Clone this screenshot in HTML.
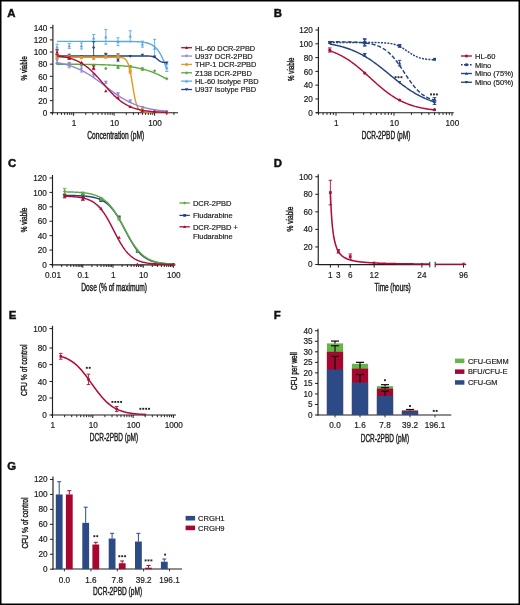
<!DOCTYPE html>
<html><head><meta charset="utf-8"><style>
html,body{margin:0;padding:0;background:#fff;}
body{width:520px;height:605px;overflow:hidden;}
svg{display:block;will-change:transform;font-family:"Liberation Sans", sans-serif;}
</style></head><body>
<svg width="520" height="605" viewBox="0 0 520 605">
<rect x="0" y="0" width="520" height="605" fill="#fff"/>
<rect x="0.7" y="0.7" width="518.6" height="603.6" fill="none" stroke="#000" stroke-width="1.6"/>
<text x="7.30" y="16.80" font-size="11.4" text-anchor="start" font-weight="bold" fill="#111" stroke="#111" stroke-width="0.45">A</text>
<line x1="52.90" y1="24.80" x2="52.90" y2="113.25" stroke="#1e1e1e" stroke-width="1.15"/>
<line x1="49.90" y1="112.75" x2="52.90" y2="112.75" stroke="#1e1e1e" stroke-width="1.0"/>
<text x="47.30" y="115.95" font-size="8.2" text-anchor="end" font-weight="normal" fill="#1a1a1a" stroke="#1a1a1a" stroke-width="0.18">0</text>
<line x1="49.90" y1="100.61" x2="52.90" y2="100.61" stroke="#1e1e1e" stroke-width="1.0"/>
<text x="47.30" y="103.81" font-size="8.2" text-anchor="end" font-weight="normal" fill="#1a1a1a" stroke="#1a1a1a" stroke-width="0.18">20</text>
<line x1="49.90" y1="88.47" x2="52.90" y2="88.47" stroke="#1e1e1e" stroke-width="1.0"/>
<text x="47.30" y="91.67" font-size="8.2" text-anchor="end" font-weight="normal" fill="#1a1a1a" stroke="#1a1a1a" stroke-width="0.18">40</text>
<line x1="49.90" y1="76.32" x2="52.90" y2="76.32" stroke="#1e1e1e" stroke-width="1.0"/>
<text x="47.30" y="79.52" font-size="8.2" text-anchor="end" font-weight="normal" fill="#1a1a1a" stroke="#1a1a1a" stroke-width="0.18">60</text>
<line x1="49.90" y1="64.18" x2="52.90" y2="64.18" stroke="#1e1e1e" stroke-width="1.0"/>
<text x="47.30" y="67.38" font-size="8.2" text-anchor="end" font-weight="normal" fill="#1a1a1a" stroke="#1a1a1a" stroke-width="0.18">80</text>
<line x1="49.90" y1="52.04" x2="52.90" y2="52.04" stroke="#1e1e1e" stroke-width="1.0"/>
<text x="47.30" y="55.24" font-size="8.2" text-anchor="end" font-weight="normal" fill="#1a1a1a" stroke="#1a1a1a" stroke-width="0.18">100</text>
<line x1="49.90" y1="39.90" x2="52.90" y2="39.90" stroke="#1e1e1e" stroke-width="1.0"/>
<text x="47.30" y="43.10" font-size="8.2" text-anchor="end" font-weight="normal" fill="#1a1a1a" stroke="#1a1a1a" stroke-width="0.18">120</text>
<line x1="49.90" y1="27.76" x2="52.90" y2="27.76" stroke="#1e1e1e" stroke-width="1.0"/>
<text x="47.30" y="30.96" font-size="8.2" text-anchor="end" font-weight="normal" fill="#1a1a1a" stroke="#1a1a1a" stroke-width="0.18">140</text>
<line x1="50.60" y1="112.75" x2="178.00" y2="112.75" stroke="#1e1e1e" stroke-width="1.15"/>
<line x1="52.42" y1="112.75" x2="52.42" y2="114.95" stroke="#1e1e1e" stroke-width="0.95"/>
<line x1="57.48" y1="112.75" x2="57.48" y2="114.95" stroke="#1e1e1e" stroke-width="0.95"/>
<line x1="61.41" y1="112.75" x2="61.41" y2="114.95" stroke="#1e1e1e" stroke-width="0.95"/>
<line x1="64.62" y1="112.75" x2="64.62" y2="114.95" stroke="#1e1e1e" stroke-width="0.95"/>
<line x1="67.33" y1="112.75" x2="67.33" y2="114.95" stroke="#1e1e1e" stroke-width="0.95"/>
<line x1="69.68" y1="112.75" x2="69.68" y2="114.95" stroke="#1e1e1e" stroke-width="0.95"/>
<line x1="71.75" y1="112.75" x2="71.75" y2="114.95" stroke="#1e1e1e" stroke-width="0.95"/>
<line x1="73.60" y1="112.75" x2="73.60" y2="115.75" stroke="#1e1e1e" stroke-width="1.0"/>
<line x1="85.79" y1="112.75" x2="85.79" y2="114.95" stroke="#1e1e1e" stroke-width="0.95"/>
<line x1="92.92" y1="112.75" x2="92.92" y2="114.95" stroke="#1e1e1e" stroke-width="0.95"/>
<line x1="97.98" y1="112.75" x2="97.98" y2="114.95" stroke="#1e1e1e" stroke-width="0.95"/>
<line x1="101.91" y1="112.75" x2="101.91" y2="114.95" stroke="#1e1e1e" stroke-width="0.95"/>
<line x1="105.12" y1="112.75" x2="105.12" y2="114.95" stroke="#1e1e1e" stroke-width="0.95"/>
<line x1="107.83" y1="112.75" x2="107.83" y2="114.95" stroke="#1e1e1e" stroke-width="0.95"/>
<line x1="110.18" y1="112.75" x2="110.18" y2="114.95" stroke="#1e1e1e" stroke-width="0.95"/>
<line x1="112.25" y1="112.75" x2="112.25" y2="114.95" stroke="#1e1e1e" stroke-width="0.95"/>
<line x1="114.10" y1="112.75" x2="114.10" y2="115.75" stroke="#1e1e1e" stroke-width="1.0"/>
<line x1="126.29" y1="112.75" x2="126.29" y2="114.95" stroke="#1e1e1e" stroke-width="0.95"/>
<line x1="133.42" y1="112.75" x2="133.42" y2="114.95" stroke="#1e1e1e" stroke-width="0.95"/>
<line x1="138.48" y1="112.75" x2="138.48" y2="114.95" stroke="#1e1e1e" stroke-width="0.95"/>
<line x1="142.41" y1="112.75" x2="142.41" y2="114.95" stroke="#1e1e1e" stroke-width="0.95"/>
<line x1="145.62" y1="112.75" x2="145.62" y2="114.95" stroke="#1e1e1e" stroke-width="0.95"/>
<line x1="148.33" y1="112.75" x2="148.33" y2="114.95" stroke="#1e1e1e" stroke-width="0.95"/>
<line x1="150.68" y1="112.75" x2="150.68" y2="114.95" stroke="#1e1e1e" stroke-width="0.95"/>
<line x1="152.75" y1="112.75" x2="152.75" y2="114.95" stroke="#1e1e1e" stroke-width="0.95"/>
<line x1="154.60" y1="112.75" x2="154.60" y2="115.75" stroke="#1e1e1e" stroke-width="1.0"/>
<line x1="166.79" y1="112.75" x2="166.79" y2="114.95" stroke="#1e1e1e" stroke-width="0.95"/>
<line x1="173.92" y1="112.75" x2="173.92" y2="114.95" stroke="#1e1e1e" stroke-width="0.95"/>
<text x="74.00" y="125.80" font-size="8.2" text-anchor="middle" font-weight="normal" fill="#1a1a1a" stroke="#1a1a1a" stroke-width="0.18">1</text>
<text x="114.50" y="125.80" font-size="8.2" text-anchor="middle" font-weight="normal" fill="#1a1a1a" stroke="#1a1a1a" stroke-width="0.18">10</text>
<text x="155.00" y="125.80" font-size="8.2" text-anchor="middle" font-weight="normal" fill="#1a1a1a" stroke="#1a1a1a" stroke-width="0.18">100</text>
<text x="87.22" y="139.00" font-size="11" font-weight="normal" fill="#1a1a1a" stroke="#1a1a1a" stroke-width="0.42" textLength="57.06" lengthAdjust="spacingAndGlyphs">Concentration (pM)</text>
<text x="26.90" y="80.58" font-size="9.8" font-weight="normal" fill="#1a1a1a" stroke="#1a1a1a" stroke-width="0.42" textLength="24.42" lengthAdjust="spacingAndGlyphs" transform="rotate(-90 26.90 80.58)">% viable</text>
<path d="M57.07 41.42 L57.85 41.42 L58.63 41.42 L59.42 41.42 L60.20 41.42 L60.99 41.42 L61.77 41.42 L62.55 41.42 L63.34 41.42 L64.12 41.42 L64.90 41.42 L65.69 41.42 L66.47 41.42 L67.26 41.42 L68.04 41.42 L68.82 41.42 L69.61 41.42 L70.39 41.42 L71.17 41.42 L71.96 41.42 L72.74 41.42 L73.53 41.42 L74.31 41.42 L75.09 41.42 L75.88 41.42 L76.66 41.42 L77.44 41.42 L78.23 41.42 L79.01 41.42 L79.80 41.42 L80.58 41.42 L81.36 41.42 L82.15 41.42 L82.93 41.42 L83.71 41.42 L84.50 41.42 L85.28 41.42 L86.07 41.42 L86.85 41.42 L87.63 41.42 L88.42 41.42 L89.20 41.42 L89.98 41.42 L90.77 41.42 L91.55 41.42 L92.34 41.42 L93.12 41.42 L93.90 41.42 L94.69 41.42 L95.47 41.42 L96.25 41.42 L97.04 41.42 L97.82 41.42 L98.61 41.42 L99.39 41.42 L100.17 41.42 L100.96 41.42 L101.74 41.42 L102.52 41.42 L103.31 41.42 L104.09 41.42 L104.88 41.42 L105.66 41.42 L106.44 41.42 L107.23 41.42 L108.01 41.42 L108.79 41.42 L109.58 41.42 L110.36 41.42 L111.15 41.42 L111.93 41.42 L112.71 41.42 L113.50 41.42 L114.28 41.42 L115.06 41.42 L115.85 41.42 L116.63 41.42 L117.42 41.43 L118.20 41.43 L118.98 41.43 L119.77 41.43 L120.55 41.43 L121.33 41.44 L122.12 41.44 L122.90 41.44 L123.69 41.45 L124.47 41.45 L125.25 41.45 L126.04 41.46 L126.82 41.47 L127.60 41.47 L128.39 41.48 L129.17 41.49 L129.96 41.50 L130.74 41.51 L131.52 41.53 L132.31 41.54 L133.09 41.56 L133.87 41.58 L134.66 41.61 L135.44 41.63 L136.23 41.66 L137.01 41.70 L137.79 41.74 L138.58 41.79 L139.36 41.84 L140.14 41.90 L140.93 41.97 L141.71 42.04 L142.50 42.13 L143.28 42.23 L144.06 42.35 L144.85 42.48 L145.63 42.63 L146.41 42.80 L147.20 43.00 L147.98 43.22 L148.77 43.47 L149.55 43.75 L150.33 44.07 L151.12 44.44 L151.90 44.85 L152.68 45.31 L153.47 45.83 L154.25 46.42 L155.04 47.08 L155.82 47.82 L156.60 48.64 L157.39 49.56 L158.17 50.57 L158.95 51.69 L159.74 52.92 L160.52 54.27 L161.31 55.74 L162.09 57.33 L162.87 59.05 L163.66 60.88 L164.44 62.83 L165.22 64.89 L166.01 67.04 L166.79 69.27" stroke="#5AA9E6" stroke-width="1.4" fill="none"/>
<line x1="57.07" y1="44.15" x2="57.07" y2="50.22" stroke="#5AA9E6" stroke-width="0.9"/>
<line x1="55.47" y1="44.15" x2="58.67" y2="44.15" stroke="#5AA9E6" stroke-width="0.9"/>
<line x1="55.47" y1="50.22" x2="58.67" y2="50.22" stroke="#5AA9E6" stroke-width="0.9"/>
<path d="M55.37 48.54L58.77 48.54L57.07 45.48Z" fill="#5AA9E6"/>
<line x1="69.26" y1="43.54" x2="69.26" y2="48.40" stroke="#5AA9E6" stroke-width="0.9"/>
<line x1="67.66" y1="43.54" x2="70.86" y2="43.54" stroke="#5AA9E6" stroke-width="0.9"/>
<line x1="67.66" y1="48.40" x2="70.86" y2="48.40" stroke="#5AA9E6" stroke-width="0.9"/>
<path d="M67.56 47.33L70.96 47.33L69.26 44.27Z" fill="#5AA9E6"/>
<line x1="81.45" y1="42.93" x2="81.45" y2="49.00" stroke="#5AA9E6" stroke-width="0.9"/>
<line x1="79.85" y1="42.93" x2="83.05" y2="42.93" stroke="#5AA9E6" stroke-width="0.9"/>
<line x1="79.85" y1="49.00" x2="83.05" y2="49.00" stroke="#5AA9E6" stroke-width="0.9"/>
<path d="M79.75 47.33L83.15 47.33L81.45 44.27Z" fill="#5AA9E6"/>
<line x1="93.64" y1="34.43" x2="93.64" y2="41.72" stroke="#5AA9E6" stroke-width="0.9"/>
<line x1="92.04" y1="34.43" x2="95.24" y2="34.43" stroke="#5AA9E6" stroke-width="0.9"/>
<line x1="92.04" y1="41.72" x2="95.24" y2="41.72" stroke="#5AA9E6" stroke-width="0.9"/>
<path d="M91.94 39.44L95.34 39.44L93.64 36.38Z" fill="#5AA9E6"/>
<line x1="105.83" y1="29.58" x2="105.83" y2="44.15" stroke="#5AA9E6" stroke-width="0.9"/>
<line x1="104.23" y1="29.58" x2="107.43" y2="29.58" stroke="#5AA9E6" stroke-width="0.9"/>
<line x1="104.23" y1="44.15" x2="107.43" y2="44.15" stroke="#5AA9E6" stroke-width="0.9"/>
<path d="M104.13 38.22L107.53 38.22L105.83 35.16Z" fill="#5AA9E6"/>
<line x1="118.02" y1="37.77" x2="118.02" y2="45.67" stroke="#5AA9E6" stroke-width="0.9"/>
<line x1="116.42" y1="37.77" x2="119.62" y2="37.77" stroke="#5AA9E6" stroke-width="0.9"/>
<line x1="116.42" y1="45.67" x2="119.62" y2="45.67" stroke="#5AA9E6" stroke-width="0.9"/>
<path d="M116.32 43.08L119.72 43.08L118.02 40.02Z" fill="#5AA9E6"/>
<line x1="130.22" y1="30.79" x2="130.22" y2="41.72" stroke="#5AA9E6" stroke-width="0.9"/>
<line x1="128.62" y1="30.79" x2="131.82" y2="30.79" stroke="#5AA9E6" stroke-width="0.9"/>
<line x1="128.62" y1="41.72" x2="131.82" y2="41.72" stroke="#5AA9E6" stroke-width="0.9"/>
<path d="M128.52 37.62L131.92 37.62L130.22 34.56Z" fill="#5AA9E6"/>
<line x1="142.41" y1="41.11" x2="142.41" y2="47.18" stroke="#5AA9E6" stroke-width="0.9"/>
<line x1="140.81" y1="41.11" x2="144.01" y2="41.11" stroke="#5AA9E6" stroke-width="0.9"/>
<line x1="140.81" y1="47.18" x2="144.01" y2="47.18" stroke="#5AA9E6" stroke-width="0.9"/>
<path d="M140.71 45.51L144.11 45.51L142.41 42.45Z" fill="#5AA9E6"/>
<line x1="154.60" y1="39.29" x2="154.60" y2="57.50" stroke="#5AA9E6" stroke-width="0.9"/>
<line x1="153.00" y1="39.29" x2="156.20" y2="39.29" stroke="#5AA9E6" stroke-width="0.9"/>
<line x1="153.00" y1="57.50" x2="156.20" y2="57.50" stroke="#5AA9E6" stroke-width="0.9"/>
<path d="M152.90 49.76L156.30 49.76L154.60 46.70Z" fill="#5AA9E6"/>
<line x1="166.79" y1="64.18" x2="166.79" y2="71.47" stroke="#5AA9E6" stroke-width="0.9"/>
<line x1="165.19" y1="64.18" x2="168.39" y2="64.18" stroke="#5AA9E6" stroke-width="0.9"/>
<line x1="165.19" y1="71.47" x2="168.39" y2="71.47" stroke="#5AA9E6" stroke-width="0.9"/>
<path d="M165.09 69.18L168.49 69.18L166.79 66.12Z" fill="#5AA9E6"/>
<path d="M57.07 55.99 L57.85 55.99 L58.63 55.99 L59.42 55.99 L60.20 55.99 L60.99 55.99 L61.77 55.99 L62.55 55.99 L63.34 55.99 L64.12 55.99 L64.90 55.99 L65.69 55.99 L66.47 55.99 L67.26 55.99 L68.04 55.99 L68.82 55.99 L69.61 55.99 L70.39 55.99 L71.17 55.99 L71.96 55.99 L72.74 55.99 L73.53 55.99 L74.31 55.99 L75.09 55.99 L75.88 55.99 L76.66 55.99 L77.44 55.99 L78.23 55.99 L79.01 55.99 L79.80 55.99 L80.58 55.99 L81.36 55.99 L82.15 55.99 L82.93 55.99 L83.71 55.99 L84.50 55.99 L85.28 55.99 L86.07 55.99 L86.85 55.99 L87.63 55.99 L88.42 55.99 L89.20 55.99 L89.98 55.99 L90.77 55.99 L91.55 55.99 L92.34 55.99 L93.12 55.99 L93.90 55.99 L94.69 55.99 L95.47 55.99 L96.25 55.99 L97.04 55.99 L97.82 55.99 L98.61 55.99 L99.39 55.99 L100.17 55.99 L100.96 55.99 L101.74 55.99 L102.52 55.99 L103.31 55.99 L104.09 55.99 L104.88 55.99 L105.66 55.99 L106.44 55.99 L107.23 55.99 L108.01 55.99 L108.79 55.99 L109.58 55.99 L110.36 55.99 L111.15 55.99 L111.93 55.99 L112.71 55.99 L113.50 55.99 L114.28 55.99 L115.06 55.99 L115.85 55.99 L116.63 55.99 L117.42 55.99 L118.20 55.99 L118.98 55.99 L119.77 55.99 L120.55 55.99 L121.33 55.99 L122.12 55.99 L122.90 55.99 L123.69 55.99 L124.47 55.99 L125.25 55.99 L126.04 55.99 L126.82 55.99 L127.60 55.99 L128.39 55.99 L129.17 55.99 L129.96 55.99 L130.74 55.99 L131.52 55.99 L132.31 55.99 L133.09 55.99 L133.87 55.99 L134.66 55.99 L135.44 55.99 L136.23 55.99 L137.01 55.99 L137.79 55.99 L138.58 55.99 L139.36 55.99 L140.14 55.99 L140.93 55.99 L141.71 55.99 L142.50 55.99 L143.28 55.99 L144.06 55.99 L144.85 56.00 L145.63 56.00 L146.41 56.01 L147.20 56.02 L147.98 56.04 L148.77 56.06 L149.55 56.10 L150.33 56.15 L151.12 56.23 L151.90 56.34 L152.68 56.51 L153.47 56.74 L154.25 57.05 L155.04 57.45 L155.82 57.96 L156.60 58.56 L157.39 59.22 L158.17 59.88 L158.95 60.50 L159.74 61.05 L160.52 61.49 L161.31 61.83 L162.09 62.08 L162.87 62.26 L163.66 62.39 L164.44 62.48 L165.22 62.54 L166.01 62.58 L166.79 62.61" stroke="#23427F" stroke-width="1.4" fill="none"/>
<path d="M55.37 54.32L58.77 54.32L57.07 57.38Z" fill="#23427F"/>
<path d="M67.56 53.72L70.96 53.72L69.26 56.78Z" fill="#23427F"/>
<path d="M79.75 54.93L83.15 54.93L81.45 57.99Z" fill="#23427F"/>
<line x1="93.64" y1="41.72" x2="93.64" y2="56.29" stroke="#23427F" stroke-width="0.9"/>
<line x1="92.04" y1="41.72" x2="95.24" y2="41.72" stroke="#23427F" stroke-width="0.9"/>
<line x1="92.04" y1="56.29" x2="95.24" y2="56.29" stroke="#23427F" stroke-width="0.9"/>
<path d="M91.94 46.67L95.34 46.67L93.64 49.73Z" fill="#23427F"/>
<line x1="105.83" y1="53.25" x2="105.83" y2="56.90" stroke="#23427F" stroke-width="0.9"/>
<line x1="104.23" y1="53.25" x2="107.43" y2="53.25" stroke="#23427F" stroke-width="0.9"/>
<line x1="104.23" y1="56.90" x2="107.43" y2="56.90" stroke="#23427F" stroke-width="0.9"/>
<path d="M104.13 53.72L107.53 53.72L105.83 56.78Z" fill="#23427F"/>
<line x1="118.02" y1="53.86" x2="118.02" y2="61.15" stroke="#23427F" stroke-width="0.9"/>
<line x1="116.42" y1="53.86" x2="119.62" y2="53.86" stroke="#23427F" stroke-width="0.9"/>
<line x1="116.42" y1="61.15" x2="119.62" y2="61.15" stroke="#23427F" stroke-width="0.9"/>
<path d="M116.32 58.57L119.72 58.57L118.02 61.63Z" fill="#23427F"/>
<path d="M128.52 54.93L131.92 54.93L130.22 57.99Z" fill="#23427F"/>
<path d="M140.71 53.72L144.11 53.72L142.41 56.78Z" fill="#23427F"/>
<path d="M152.90 55.54L156.30 55.54L154.60 58.60Z" fill="#23427F"/>
<path d="M165.09 61.61L168.49 61.61L166.79 64.67Z" fill="#23427F"/>
<path d="M57.07 64.22 L57.85 64.23 L58.63 64.23 L59.42 64.23 L60.20 64.23 L60.99 64.23 L61.77 64.24 L62.55 64.24 L63.34 64.24 L64.12 64.24 L64.90 64.25 L65.69 64.25 L66.47 64.25 L67.26 64.26 L68.04 64.26 L68.82 64.26 L69.61 64.27 L70.39 64.27 L71.17 64.28 L71.96 64.28 L72.74 64.28 L73.53 64.29 L74.31 64.29 L75.09 64.30 L75.88 64.30 L76.66 64.31 L77.44 64.32 L78.23 64.32 L79.01 64.33 L79.80 64.34 L80.58 64.34 L81.36 64.35 L82.15 64.36 L82.93 64.36 L83.71 64.37 L84.50 64.38 L85.28 64.39 L86.07 64.40 L86.85 64.41 L87.63 64.42 L88.42 64.43 L89.20 64.44 L89.98 64.45 L90.77 64.47 L91.55 64.48 L92.34 64.49 L93.12 64.51 L93.90 64.52 L94.69 64.54 L95.47 64.55 L96.25 64.57 L97.04 64.59 L97.82 64.61 L98.61 64.63 L99.39 64.65 L100.17 64.67 L100.96 64.69 L101.74 64.71 L102.52 64.73 L103.31 64.76 L104.09 64.79 L104.88 64.81 L105.66 64.84 L106.44 64.87 L107.23 64.90 L108.01 64.93 L108.79 64.97 L109.58 65.00 L110.36 65.04 L111.15 65.08 L111.93 65.12 L112.71 65.16 L113.50 65.20 L114.28 65.25 L115.06 65.30 L115.85 65.35 L116.63 65.40 L117.42 65.45 L118.20 65.51 L118.98 65.57 L119.77 65.63 L120.55 65.69 L121.33 65.76 L122.12 65.83 L122.90 65.90 L123.69 65.97 L124.47 66.05 L125.25 66.13 L126.04 66.22 L126.82 66.31 L127.60 66.40 L128.39 66.50 L129.17 66.60 L129.96 66.70 L130.74 66.81 L131.52 66.92 L132.31 67.04 L133.09 67.16 L133.87 67.29 L134.66 67.42 L135.44 67.56 L136.23 67.70 L137.01 67.85 L137.79 68.01 L138.58 68.17 L139.36 68.33 L140.14 68.50 L140.93 68.68 L141.71 68.87 L142.50 69.06 L143.28 69.26 L144.06 69.47 L144.85 69.68 L145.63 69.90 L146.41 70.13 L147.20 70.37 L147.98 70.61 L148.77 70.86 L149.55 71.12 L150.33 71.39 L151.12 71.67 L151.90 71.96 L152.68 72.25 L153.47 72.56 L154.25 72.87 L155.04 73.19 L155.82 73.52 L156.60 73.87 L157.39 74.22 L158.17 74.57 L158.95 74.94 L159.74 75.32 L160.52 75.71 L161.31 76.10 L162.09 76.51 L162.87 76.92 L163.66 77.35 L164.44 77.78 L165.22 78.22 L166.01 78.67 L166.79 79.13" stroke="#5BAA40" stroke-width="1.4" fill="none"/>
<path d="M57.07 61.87L58.77 63.57L57.07 65.27L55.37 63.57Z" fill="#5BAA40"/>
<line x1="69.26" y1="62.36" x2="69.26" y2="66.00" stroke="#5BAA40" stroke-width="0.9"/>
<line x1="67.66" y1="62.36" x2="70.86" y2="62.36" stroke="#5BAA40" stroke-width="0.9"/>
<line x1="67.66" y1="66.00" x2="70.86" y2="66.00" stroke="#5BAA40" stroke-width="0.9"/>
<path d="M69.26 62.48L70.96 64.18L69.26 65.88L67.56 64.18Z" fill="#5BAA40"/>
<line x1="81.45" y1="62.97" x2="81.45" y2="65.40" stroke="#5BAA40" stroke-width="0.9"/>
<line x1="79.85" y1="62.97" x2="83.05" y2="62.97" stroke="#5BAA40" stroke-width="0.9"/>
<line x1="79.85" y1="65.40" x2="83.05" y2="65.40" stroke="#5BAA40" stroke-width="0.9"/>
<path d="M81.45 62.48L83.15 64.18L81.45 65.88L79.75 64.18Z" fill="#5BAA40"/>
<path d="M93.64 63.70L95.34 65.40L93.64 67.10L91.94 65.40Z" fill="#5BAA40"/>
<path d="M105.83 66.73L107.53 68.43L105.83 70.13L104.13 68.43Z" fill="#5BAA40"/>
<line x1="118.02" y1="66.00" x2="118.02" y2="68.43" stroke="#5BAA40" stroke-width="0.9"/>
<line x1="116.42" y1="66.00" x2="119.62" y2="66.00" stroke="#5BAA40" stroke-width="0.9"/>
<line x1="116.42" y1="68.43" x2="119.62" y2="68.43" stroke="#5BAA40" stroke-width="0.9"/>
<path d="M118.02 65.52L119.72 67.22L118.02 68.92L116.32 67.22Z" fill="#5BAA40"/>
<line x1="130.22" y1="65.40" x2="130.22" y2="67.82" stroke="#5BAA40" stroke-width="0.9"/>
<line x1="128.62" y1="65.40" x2="131.82" y2="65.40" stroke="#5BAA40" stroke-width="0.9"/>
<line x1="128.62" y1="67.82" x2="131.82" y2="67.82" stroke="#5BAA40" stroke-width="0.9"/>
<path d="M130.22 64.91L131.92 66.61L130.22 68.31L128.52 66.61Z" fill="#5BAA40"/>
<line x1="142.41" y1="67.82" x2="142.41" y2="70.25" stroke="#5BAA40" stroke-width="0.9"/>
<line x1="140.81" y1="67.82" x2="144.01" y2="67.82" stroke="#5BAA40" stroke-width="0.9"/>
<line x1="140.81" y1="70.25" x2="144.01" y2="70.25" stroke="#5BAA40" stroke-width="0.9"/>
<path d="M142.41 67.34L144.11 69.04L142.41 70.74L140.71 69.04Z" fill="#5BAA40"/>
<path d="M154.60 69.16L156.30 70.86L154.60 72.56L152.90 70.86Z" fill="#5BAA40"/>
<path d="M166.79 77.05L168.49 78.75L166.79 80.45L165.09 78.75Z" fill="#5BAA40"/>
<path d="M57.07 57.20 L57.85 57.20 L58.63 57.20 L59.42 57.20 L60.20 57.20 L60.99 57.20 L61.77 57.20 L62.55 57.20 L63.34 57.20 L64.12 57.20 L64.90 57.20 L65.69 57.20 L66.47 57.20 L67.26 57.20 L68.04 57.20 L68.82 57.20 L69.61 57.20 L70.39 57.20 L71.17 57.20 L71.96 57.20 L72.74 57.20 L73.53 57.20 L74.31 57.20 L75.09 57.20 L75.88 57.20 L76.66 57.20 L77.44 57.20 L78.23 57.20 L79.01 57.20 L79.80 57.20 L80.58 57.20 L81.36 57.20 L82.15 57.20 L82.93 57.20 L83.71 57.20 L84.50 57.20 L85.28 57.20 L86.07 57.20 L86.85 57.20 L87.63 57.20 L88.42 57.20 L89.20 57.20 L89.98 57.20 L90.77 57.20 L91.55 57.20 L92.34 57.20 L93.12 57.20 L93.90 57.20 L94.69 57.20 L95.47 57.20 L96.25 57.20 L97.04 57.20 L97.82 57.20 L98.61 57.20 L99.39 57.20 L100.17 57.20 L100.96 57.20 L101.74 57.20 L102.52 57.20 L103.31 57.20 L104.09 57.20 L104.88 57.20 L105.66 57.20 L106.44 57.20 L107.23 57.20 L108.01 57.20 L108.79 57.20 L109.58 57.20 L110.36 57.20 L111.15 57.20 L111.93 57.21 L112.71 57.21 L113.50 57.21 L114.28 57.21 L115.06 57.22 L115.85 57.23 L116.63 57.24 L117.42 57.26 L118.20 57.28 L118.98 57.32 L119.77 57.37 L120.55 57.44 L121.33 57.54 L122.12 57.68 L122.90 57.88 L123.69 58.17 L124.47 58.58 L125.25 59.14 L126.04 59.93 L126.82 61.02 L127.60 62.50 L128.39 64.47 L129.17 67.03 L129.96 70.24 L130.74 74.11 L131.52 78.54 L132.31 83.33 L133.09 88.21 L133.87 92.87 L134.66 97.06 L135.44 100.64 L136.23 103.55 L137.01 105.83 L137.79 107.56 L138.58 108.85 L139.36 109.80 L140.14 110.48 L140.93 110.97 L141.71 111.32 L142.50 111.56 L143.28 111.73 L144.06 111.86 L144.85 111.94 L145.63 112.00 L146.41 112.04 L147.20 112.07 L147.98 112.09 L148.77 112.11 L149.55 112.12 L150.33 112.13 L151.12 112.13 L151.90 112.13 L152.68 112.14 L153.47 112.14 L154.25 112.14 L155.04 112.14 L155.82 112.14 L156.60 112.14 L157.39 112.14 L158.17 112.14 L158.95 112.14 L159.74 112.14 L160.52 112.14 L161.31 112.14 L162.09 112.14 L162.87 112.14 L163.66 112.14 L164.44 112.14 L165.22 112.14 L166.01 112.14 L166.79 112.14" stroke="#E8961E" stroke-width="1.4" fill="none"/>
<line x1="57.07" y1="55.08" x2="57.07" y2="58.72" stroke="#E8961E" stroke-width="0.9"/>
<line x1="55.47" y1="55.08" x2="58.67" y2="55.08" stroke="#E8961E" stroke-width="0.9"/>
<line x1="55.47" y1="58.72" x2="58.67" y2="58.72" stroke="#E8961E" stroke-width="0.9"/>
<circle cx="57.07" cy="56.90" r="1.61" fill="#E8961E"/>
<line x1="69.26" y1="55.08" x2="69.26" y2="58.72" stroke="#E8961E" stroke-width="0.9"/>
<line x1="67.66" y1="55.08" x2="70.86" y2="55.08" stroke="#E8961E" stroke-width="0.9"/>
<line x1="67.66" y1="58.72" x2="70.86" y2="58.72" stroke="#E8961E" stroke-width="0.9"/>
<circle cx="69.26" cy="56.90" r="1.61" fill="#E8961E"/>
<line x1="81.45" y1="56.29" x2="81.45" y2="58.72" stroke="#E8961E" stroke-width="0.9"/>
<line x1="79.85" y1="56.29" x2="83.05" y2="56.29" stroke="#E8961E" stroke-width="0.9"/>
<line x1="79.85" y1="58.72" x2="83.05" y2="58.72" stroke="#E8961E" stroke-width="0.9"/>
<circle cx="81.45" cy="57.50" r="1.61" fill="#E8961E"/>
<line x1="93.64" y1="56.90" x2="93.64" y2="59.33" stroke="#E8961E" stroke-width="0.9"/>
<line x1="92.04" y1="56.90" x2="95.24" y2="56.90" stroke="#E8961E" stroke-width="0.9"/>
<line x1="92.04" y1="59.33" x2="95.24" y2="59.33" stroke="#E8961E" stroke-width="0.9"/>
<circle cx="93.64" cy="58.11" r="1.61" fill="#E8961E"/>
<line x1="105.83" y1="55.68" x2="105.83" y2="58.11" stroke="#E8961E" stroke-width="0.9"/>
<line x1="104.23" y1="55.68" x2="107.43" y2="55.68" stroke="#E8961E" stroke-width="0.9"/>
<line x1="104.23" y1="58.11" x2="107.43" y2="58.11" stroke="#E8961E" stroke-width="0.9"/>
<circle cx="105.83" cy="56.90" r="1.61" fill="#E8961E"/>
<line x1="118.02" y1="55.68" x2="118.02" y2="58.11" stroke="#E8961E" stroke-width="0.9"/>
<line x1="116.42" y1="55.68" x2="119.62" y2="55.68" stroke="#E8961E" stroke-width="0.9"/>
<line x1="116.42" y1="58.11" x2="119.62" y2="58.11" stroke="#E8961E" stroke-width="0.9"/>
<circle cx="118.02" cy="56.90" r="1.61" fill="#E8961E"/>
<line x1="130.22" y1="69.65" x2="130.22" y2="73.29" stroke="#E8961E" stroke-width="0.9"/>
<line x1="128.62" y1="69.65" x2="131.82" y2="69.65" stroke="#E8961E" stroke-width="0.9"/>
<line x1="128.62" y1="73.29" x2="131.82" y2="73.29" stroke="#E8961E" stroke-width="0.9"/>
<circle cx="130.22" cy="71.47" r="1.61" fill="#E8961E"/>
<circle cx="142.41" cy="109.11" r="1.61" fill="#E8961E"/>
<circle cx="154.60" cy="111.54" r="1.61" fill="#E8961E"/>
<circle cx="166.79" cy="112.14" r="1.61" fill="#E8961E"/>
<path d="M57.07 62.59 L57.85 62.73 L58.63 62.87 L59.42 63.03 L60.20 63.18 L60.99 63.34 L61.77 63.51 L62.55 63.69 L63.34 63.87 L64.12 64.06 L64.90 64.25 L65.69 64.46 L66.47 64.67 L67.26 64.89 L68.04 65.11 L68.82 65.35 L69.61 65.59 L70.39 65.84 L71.17 66.10 L71.96 66.37 L72.74 66.64 L73.53 66.93 L74.31 67.22 L75.09 67.53 L75.88 67.84 L76.66 68.17 L77.44 68.50 L78.23 68.84 L79.01 69.20 L79.80 69.56 L80.58 69.94 L81.36 70.32 L82.15 70.71 L82.93 71.12 L83.71 71.53 L84.50 71.96 L85.28 72.39 L86.07 72.84 L86.85 73.29 L87.63 73.76 L88.42 74.23 L89.20 74.71 L89.98 75.21 L90.77 75.71 L91.55 76.22 L92.34 76.74 L93.12 77.27 L93.90 77.80 L94.69 78.34 L95.47 78.89 L96.25 79.45 L97.04 80.01 L97.82 80.58 L98.61 81.15 L99.39 81.73 L100.17 82.31 L100.96 82.89 L101.74 83.48 L102.52 84.07 L103.31 84.67 L104.09 85.26 L104.88 85.86 L105.66 86.45 L106.44 87.05 L107.23 87.64 L108.01 88.23 L108.79 88.82 L109.58 89.41 L110.36 89.99 L111.15 90.57 L111.93 91.15 L112.71 91.72 L113.50 92.28 L114.28 92.84 L115.06 93.40 L115.85 93.94 L116.63 94.48 L117.42 95.01 L118.20 95.54 L118.98 96.05 L119.77 96.56 L120.55 97.06 L121.33 97.55 L122.12 98.03 L122.90 98.50 L123.69 98.96 L124.47 99.41 L125.25 99.85 L126.04 100.28 L126.82 100.70 L127.60 101.11 L128.39 101.51 L129.17 101.91 L129.96 102.29 L130.74 102.66 L131.52 103.01 L132.31 103.36 L133.09 103.70 L133.87 104.03 L134.66 104.35 L135.44 104.67 L136.23 104.97 L137.01 105.26 L137.79 105.54 L138.58 105.81 L139.36 106.08 L140.14 106.33 L140.93 106.58 L141.71 106.82 L142.50 107.05 L143.28 107.27 L144.06 107.49 L144.85 107.70 L145.63 107.90 L146.41 108.09 L147.20 108.28 L147.98 108.46 L148.77 108.63 L149.55 108.79 L150.33 108.95 L151.12 109.11 L151.90 109.26 L152.68 109.40 L153.47 109.54 L154.25 109.67 L155.04 109.80 L155.82 109.92 L156.60 110.03 L157.39 110.15 L158.17 110.26 L158.95 110.36 L159.74 110.46 L160.52 110.55 L161.31 110.65 L162.09 110.73 L162.87 110.82 L163.66 110.90 L164.44 110.98 L165.22 111.05 L166.01 111.13 L166.79 111.19" stroke="#9289D2" stroke-width="1.4" fill="none"/>
<line x1="57.07" y1="58.11" x2="57.07" y2="62.97" stroke="#9289D2" stroke-width="0.9"/>
<line x1="55.47" y1="58.11" x2="58.67" y2="58.11" stroke="#9289D2" stroke-width="0.9"/>
<line x1="55.47" y1="62.97" x2="58.67" y2="62.97" stroke="#9289D2" stroke-width="0.9"/>
<path d="M55.37 59.18L58.77 59.18L57.07 62.24Z" fill="#9289D2"/>
<line x1="69.26" y1="62.97" x2="69.26" y2="67.82" stroke="#9289D2" stroke-width="0.9"/>
<line x1="67.66" y1="62.97" x2="70.86" y2="62.97" stroke="#9289D2" stroke-width="0.9"/>
<line x1="67.66" y1="67.82" x2="70.86" y2="67.82" stroke="#9289D2" stroke-width="0.9"/>
<path d="M67.56 64.04L70.96 64.04L69.26 67.10Z" fill="#9289D2"/>
<line x1="81.45" y1="66.00" x2="81.45" y2="72.07" stroke="#9289D2" stroke-width="0.9"/>
<line x1="79.85" y1="66.00" x2="83.05" y2="66.00" stroke="#9289D2" stroke-width="0.9"/>
<line x1="79.85" y1="72.07" x2="83.05" y2="72.07" stroke="#9289D2" stroke-width="0.9"/>
<path d="M79.75 67.68L83.15 67.68L81.45 70.74Z" fill="#9289D2"/>
<line x1="93.64" y1="73.90" x2="93.64" y2="76.32" stroke="#9289D2" stroke-width="0.9"/>
<line x1="92.04" y1="73.90" x2="95.24" y2="73.90" stroke="#9289D2" stroke-width="0.9"/>
<line x1="92.04" y1="76.32" x2="95.24" y2="76.32" stroke="#9289D2" stroke-width="0.9"/>
<path d="M91.94 73.75L95.34 73.75L93.64 76.81Z" fill="#9289D2"/>
<line x1="105.83" y1="81.18" x2="105.83" y2="83.61" stroke="#9289D2" stroke-width="0.9"/>
<line x1="104.23" y1="81.18" x2="107.43" y2="81.18" stroke="#9289D2" stroke-width="0.9"/>
<line x1="104.23" y1="83.61" x2="107.43" y2="83.61" stroke="#9289D2" stroke-width="0.9"/>
<path d="M104.13 81.04L107.53 81.04L105.83 84.10Z" fill="#9289D2"/>
<line x1="118.02" y1="92.72" x2="118.02" y2="95.14" stroke="#9289D2" stroke-width="0.9"/>
<line x1="116.42" y1="92.72" x2="119.62" y2="92.72" stroke="#9289D2" stroke-width="0.9"/>
<line x1="116.42" y1="95.14" x2="119.62" y2="95.14" stroke="#9289D2" stroke-width="0.9"/>
<path d="M116.32 92.57L119.72 92.57L118.02 95.63Z" fill="#9289D2"/>
<line x1="130.22" y1="100.00" x2="130.22" y2="102.43" stroke="#9289D2" stroke-width="0.9"/>
<line x1="128.62" y1="100.00" x2="131.82" y2="100.00" stroke="#9289D2" stroke-width="0.9"/>
<line x1="128.62" y1="102.43" x2="131.82" y2="102.43" stroke="#9289D2" stroke-width="0.9"/>
<path d="M128.52 99.86L131.92 99.86L130.22 102.92Z" fill="#9289D2"/>
<path d="M140.71 105.93L144.11 105.93L142.41 108.99Z" fill="#9289D2"/>
<path d="M152.90 109.57L156.30 109.57L154.60 112.63Z" fill="#9289D2"/>
<path d="M165.09 110.18L168.49 110.18L166.79 113.24Z" fill="#9289D2"/>
<path d="M57.07 55.91 L57.85 56.00 L58.63 56.09 L59.42 56.19 L60.20 56.30 L60.99 56.42 L61.77 56.54 L62.55 56.66 L63.34 56.80 L64.12 56.94 L64.90 57.10 L65.69 57.26 L66.47 57.43 L67.26 57.61 L68.04 57.80 L68.82 58.00 L69.61 58.21 L70.39 58.44 L71.17 58.67 L71.96 58.92 L72.74 59.19 L73.53 59.46 L74.31 59.76 L75.09 60.07 L75.88 60.39 L76.66 60.73 L77.44 61.09 L78.23 61.46 L79.01 61.85 L79.80 62.27 L80.58 62.70 L81.36 63.15 L82.15 63.62 L82.93 64.11 L83.71 64.62 L84.50 65.16 L85.28 65.71 L86.07 66.29 L86.85 66.89 L87.63 67.51 L88.42 68.15 L89.20 68.81 L89.98 69.50 L90.77 70.21 L91.55 70.93 L92.34 71.68 L93.12 72.45 L93.90 73.23 L94.69 74.03 L95.47 74.85 L96.25 75.69 L97.04 76.53 L97.82 77.40 L98.61 78.27 L99.39 79.15 L100.17 80.04 L100.96 80.94 L101.74 81.85 L102.52 82.75 L103.31 83.66 L104.09 84.57 L104.88 85.48 L105.66 86.38 L106.44 87.28 L107.23 88.17 L108.01 89.05 L108.79 89.92 L109.58 90.78 L110.36 91.63 L111.15 92.46 L111.93 93.28 L112.71 94.08 L113.50 94.86 L114.28 95.63 L115.06 96.37 L115.85 97.10 L116.63 97.80 L117.42 98.48 L118.20 99.14 L118.98 99.78 L119.77 100.40 L120.55 101.00 L121.33 101.57 L122.12 102.13 L122.90 102.66 L123.69 103.17 L124.47 103.66 L125.25 104.12 L126.04 104.57 L126.82 105.00 L127.60 105.41 L128.39 105.80 L129.17 106.17 L129.96 106.53 L130.74 106.87 L131.52 107.19 L132.31 107.50 L133.09 107.79 L133.87 108.06 L134.66 108.32 L135.44 108.57 L136.23 108.81 L137.01 109.03 L137.79 109.24 L138.58 109.44 L139.36 109.63 L140.14 109.81 L140.93 109.98 L141.71 110.14 L142.50 110.29 L143.28 110.43 L144.06 110.57 L144.85 110.70 L145.63 110.82 L146.41 110.93 L147.20 111.04 L147.98 111.14 L148.77 111.23 L149.55 111.32 L150.33 111.41 L151.12 111.49 L151.90 111.56 L152.68 111.63 L153.47 111.70 L154.25 111.76 L155.04 111.82 L155.82 111.87 L156.60 111.93 L157.39 111.98 L158.17 112.02 L158.95 112.07 L159.74 112.11 L160.52 112.15 L161.31 112.18 L162.09 112.22 L162.87 112.25 L163.66 112.28 L164.44 112.31 L165.22 112.33 L166.01 112.36 L166.79 112.38" stroke="#AE0F36" stroke-width="1.4" fill="none"/>
<line x1="57.07" y1="49.61" x2="57.07" y2="54.47" stroke="#AE0F36" stroke-width="0.9"/>
<line x1="55.47" y1="49.61" x2="58.67" y2="49.61" stroke="#AE0F36" stroke-width="0.9"/>
<line x1="55.47" y1="54.47" x2="58.67" y2="54.47" stroke="#AE0F36" stroke-width="0.9"/>
<path d="M55.37 53.40L58.77 53.40L57.07 50.34Z" fill="#AE0F36"/>
<line x1="69.26" y1="56.90" x2="69.26" y2="59.33" stroke="#AE0F36" stroke-width="0.9"/>
<line x1="67.66" y1="56.90" x2="70.86" y2="56.90" stroke="#AE0F36" stroke-width="0.9"/>
<line x1="67.66" y1="59.33" x2="70.86" y2="59.33" stroke="#AE0F36" stroke-width="0.9"/>
<path d="M67.56 59.47L70.96 59.47L69.26 56.41Z" fill="#AE0F36"/>
<path d="M79.75 63.72L83.15 63.72L81.45 60.66Z" fill="#AE0F36"/>
<line x1="93.64" y1="66.00" x2="93.64" y2="69.65" stroke="#AE0F36" stroke-width="0.9"/>
<line x1="92.04" y1="66.00" x2="95.24" y2="66.00" stroke="#AE0F36" stroke-width="0.9"/>
<line x1="92.04" y1="69.65" x2="95.24" y2="69.65" stroke="#AE0F36" stroke-width="0.9"/>
<path d="M91.94 69.18L95.34 69.18L93.64 66.12Z" fill="#AE0F36"/>
<path d="M104.13 92.25L107.53 92.25L105.83 89.19Z" fill="#AE0F36"/>
<path d="M116.32 98.93L119.72 98.93L118.02 95.87Z" fill="#AE0F36"/>
<path d="M128.52 108.04L131.92 108.04L130.22 104.98Z" fill="#AE0F36"/>
<path d="M140.71 112.29L144.11 112.29L142.41 109.23Z" fill="#AE0F36"/>
<path d="M152.90 112.90L156.30 112.90L154.60 109.84Z" fill="#AE0F36"/>
<path d="M165.09 113.50L168.49 113.50L166.79 110.44Z" fill="#AE0F36"/>
<line x1="181.20" y1="47.70" x2="192.00" y2="47.70" stroke="#AE0F36" stroke-width="1.3"/>
<path d="M185.00 48.98L188.20 48.98L186.60 46.10Z" fill="#AE0F36"/>
<text x="195.00" y="50.50" font-size="8.0" text-anchor="start" font-weight="normal" fill="#1a1a1a" stroke="#1a1a1a" stroke-width="0.18" textLength="60.20" lengthAdjust="spacingAndGlyphs">HL-60 DCR-2PBD</text>
<line x1="181.20" y1="56.06" x2="192.00" y2="56.06" stroke="#9289D2" stroke-width="1.3"/>
<path d="M185.00 54.78L188.20 54.78L186.60 57.66Z" fill="#9289D2"/>
<text x="195.00" y="58.86" font-size="8.0" text-anchor="start" font-weight="normal" fill="#1a1a1a" stroke="#1a1a1a" stroke-width="0.18" textLength="57.73" lengthAdjust="spacingAndGlyphs">U937 DCR-2PBD</text>
<line x1="181.20" y1="64.42" x2="192.00" y2="64.42" stroke="#E8961E" stroke-width="1.3"/>
<circle cx="186.60" cy="64.42" r="1.52" fill="#E8961E"/>
<text x="195.00" y="67.22" font-size="8.0" text-anchor="start" font-weight="normal" fill="#1a1a1a" stroke="#1a1a1a" stroke-width="0.18" textLength="61.43" lengthAdjust="spacingAndGlyphs">THP-1 DCR-2PBD</text>
<line x1="181.20" y1="72.78" x2="192.00" y2="72.78" stroke="#5BAA40" stroke-width="1.3"/>
<path d="M186.60 71.18L188.20 72.78L186.60 74.38L185.00 72.78Z" fill="#5BAA40"/>
<text x="195.00" y="75.58" font-size="8.0" text-anchor="start" font-weight="normal" fill="#1a1a1a" stroke="#1a1a1a" stroke-width="0.18" textLength="56.91" lengthAdjust="spacingAndGlyphs">Z138 DCR-2PBD</text>
<line x1="181.20" y1="81.14" x2="192.00" y2="81.14" stroke="#5AA9E6" stroke-width="1.3"/>
<path d="M185.00 82.42L188.20 82.42L186.60 79.54Z" fill="#5AA9E6"/>
<text x="195.00" y="83.94" font-size="8.0" text-anchor="start" font-weight="normal" fill="#1a1a1a" stroke="#1a1a1a" stroke-width="0.18" textLength="63.51" lengthAdjust="spacingAndGlyphs">HL-60 Isotype PBD</text>
<line x1="181.20" y1="89.50" x2="192.00" y2="89.50" stroke="#23427F" stroke-width="1.3"/>
<path d="M185.00 88.22L188.20 88.22L186.60 91.10Z" fill="#23427F"/>
<text x="195.00" y="92.30" font-size="8.0" text-anchor="start" font-weight="normal" fill="#1a1a1a" stroke="#1a1a1a" stroke-width="0.18" textLength="61.04" lengthAdjust="spacingAndGlyphs">U937 Isotype PBD</text>
<text x="273.80" y="17.20" font-size="11.4" text-anchor="start" font-weight="bold" fill="#111" stroke="#111" stroke-width="0.45">B</text>
<line x1="318.40" y1="26.90" x2="318.40" y2="113.25" stroke="#1e1e1e" stroke-width="1.15"/>
<line x1="315.40" y1="112.75" x2="318.40" y2="112.75" stroke="#1e1e1e" stroke-width="1.0"/>
<text x="312.80" y="115.95" font-size="8.2" text-anchor="end" font-weight="normal" fill="#1a1a1a" stroke="#1a1a1a" stroke-width="0.18">0</text>
<line x1="315.40" y1="98.96" x2="318.40" y2="98.96" stroke="#1e1e1e" stroke-width="1.0"/>
<text x="312.80" y="102.16" font-size="8.2" text-anchor="end" font-weight="normal" fill="#1a1a1a" stroke="#1a1a1a" stroke-width="0.18">20</text>
<line x1="315.40" y1="85.17" x2="318.40" y2="85.17" stroke="#1e1e1e" stroke-width="1.0"/>
<text x="312.80" y="88.37" font-size="8.2" text-anchor="end" font-weight="normal" fill="#1a1a1a" stroke="#1a1a1a" stroke-width="0.18">40</text>
<line x1="315.40" y1="71.37" x2="318.40" y2="71.37" stroke="#1e1e1e" stroke-width="1.0"/>
<text x="312.80" y="74.57" font-size="8.2" text-anchor="end" font-weight="normal" fill="#1a1a1a" stroke="#1a1a1a" stroke-width="0.18">60</text>
<line x1="315.40" y1="57.58" x2="318.40" y2="57.58" stroke="#1e1e1e" stroke-width="1.0"/>
<text x="312.80" y="60.78" font-size="8.2" text-anchor="end" font-weight="normal" fill="#1a1a1a" stroke="#1a1a1a" stroke-width="0.18">80</text>
<line x1="315.40" y1="43.79" x2="318.40" y2="43.79" stroke="#1e1e1e" stroke-width="1.0"/>
<text x="312.80" y="46.99" font-size="8.2" text-anchor="end" font-weight="normal" fill="#1a1a1a" stroke="#1a1a1a" stroke-width="0.18">100</text>
<line x1="315.40" y1="30.00" x2="318.40" y2="30.00" stroke="#1e1e1e" stroke-width="1.0"/>
<text x="312.80" y="33.20" font-size="8.2" text-anchor="end" font-weight="normal" fill="#1a1a1a" stroke="#1a1a1a" stroke-width="0.18">120</text>
<line x1="316.00" y1="112.75" x2="453.80" y2="112.75" stroke="#1e1e1e" stroke-width="1.15"/>
<line x1="318.54" y1="112.75" x2="318.54" y2="114.95" stroke="#1e1e1e" stroke-width="0.95"/>
<line x1="323.13" y1="112.75" x2="323.13" y2="114.95" stroke="#1e1e1e" stroke-width="0.95"/>
<line x1="327.02" y1="112.75" x2="327.02" y2="114.95" stroke="#1e1e1e" stroke-width="0.95"/>
<line x1="330.38" y1="112.75" x2="330.38" y2="114.95" stroke="#1e1e1e" stroke-width="0.95"/>
<line x1="333.35" y1="112.75" x2="333.35" y2="114.95" stroke="#1e1e1e" stroke-width="0.95"/>
<line x1="336.00" y1="112.75" x2="336.00" y2="115.75" stroke="#1e1e1e" stroke-width="1.0"/>
<line x1="353.46" y1="112.75" x2="353.46" y2="114.95" stroke="#1e1e1e" stroke-width="0.95"/>
<line x1="363.67" y1="112.75" x2="363.67" y2="114.95" stroke="#1e1e1e" stroke-width="0.95"/>
<line x1="370.92" y1="112.75" x2="370.92" y2="114.95" stroke="#1e1e1e" stroke-width="0.95"/>
<line x1="376.54" y1="112.75" x2="376.54" y2="114.95" stroke="#1e1e1e" stroke-width="0.95"/>
<line x1="381.13" y1="112.75" x2="381.13" y2="114.95" stroke="#1e1e1e" stroke-width="0.95"/>
<line x1="385.02" y1="112.75" x2="385.02" y2="114.95" stroke="#1e1e1e" stroke-width="0.95"/>
<line x1="388.38" y1="112.75" x2="388.38" y2="114.95" stroke="#1e1e1e" stroke-width="0.95"/>
<line x1="391.35" y1="112.75" x2="391.35" y2="114.95" stroke="#1e1e1e" stroke-width="0.95"/>
<line x1="394.00" y1="112.75" x2="394.00" y2="115.75" stroke="#1e1e1e" stroke-width="1.0"/>
<line x1="411.46" y1="112.75" x2="411.46" y2="114.95" stroke="#1e1e1e" stroke-width="0.95"/>
<line x1="421.67" y1="112.75" x2="421.67" y2="114.95" stroke="#1e1e1e" stroke-width="0.95"/>
<line x1="428.92" y1="112.75" x2="428.92" y2="114.95" stroke="#1e1e1e" stroke-width="0.95"/>
<line x1="434.54" y1="112.75" x2="434.54" y2="114.95" stroke="#1e1e1e" stroke-width="0.95"/>
<line x1="439.13" y1="112.75" x2="439.13" y2="114.95" stroke="#1e1e1e" stroke-width="0.95"/>
<line x1="443.02" y1="112.75" x2="443.02" y2="114.95" stroke="#1e1e1e" stroke-width="0.95"/>
<line x1="446.38" y1="112.75" x2="446.38" y2="114.95" stroke="#1e1e1e" stroke-width="0.95"/>
<line x1="449.35" y1="112.75" x2="449.35" y2="114.95" stroke="#1e1e1e" stroke-width="0.95"/>
<line x1="452.00" y1="112.75" x2="452.00" y2="115.75" stroke="#1e1e1e" stroke-width="1.0"/>
<text x="336.40" y="125.80" font-size="8.2" text-anchor="middle" font-weight="normal" fill="#1a1a1a" stroke="#1a1a1a" stroke-width="0.18">1</text>
<text x="394.40" y="125.80" font-size="8.2" text-anchor="middle" font-weight="normal" fill="#1a1a1a" stroke="#1a1a1a" stroke-width="0.18">10</text>
<text x="452.40" y="125.80" font-size="8.2" text-anchor="middle" font-weight="normal" fill="#1a1a1a" stroke="#1a1a1a" stroke-width="0.18">100</text>
<text x="361.73" y="138.75" font-size="11" font-weight="normal" fill="#1a1a1a" stroke="#1a1a1a" stroke-width="0.42" textLength="48.65" lengthAdjust="spacingAndGlyphs">DCR-2PBD (pM)</text>
<text x="293.60" y="80.97" font-size="9.8" font-weight="normal" fill="#1a1a1a" stroke="#1a1a1a" stroke-width="0.42" textLength="23.50" lengthAdjust="spacingAndGlyphs" transform="rotate(-90 293.60 80.97)">% viable</text>
<path d="M329.74 42.41 L330.49 42.41 L331.24 42.41 L331.99 42.41 L332.74 42.41 L333.48 42.41 L334.23 42.41 L334.98 42.41 L335.73 42.41 L336.48 42.41 L337.23 42.41 L337.98 42.41 L338.72 42.41 L339.47 42.41 L340.22 42.41 L340.97 42.41 L341.72 42.41 L342.47 42.41 L343.22 42.41 L343.96 42.41 L344.71 42.41 L345.46 42.41 L346.21 42.41 L346.96 42.41 L347.71 42.41 L348.46 42.41 L349.20 42.41 L349.95 42.41 L350.70 42.41 L351.45 42.41 L352.20 42.41 L352.95 42.41 L353.70 42.41 L354.44 42.41 L355.19 42.42 L355.94 42.42 L356.69 42.42 L357.44 42.42 L358.19 42.42 L358.94 42.42 L359.68 42.42 L360.43 42.42 L361.18 42.42 L361.93 42.42 L362.68 42.43 L363.43 42.43 L364.18 42.43 L364.92 42.43 L365.67 42.43 L366.42 42.44 L367.17 42.44 L367.92 42.44 L368.67 42.45 L369.42 42.45 L370.16 42.46 L370.91 42.46 L371.66 42.47 L372.41 42.48 L373.16 42.49 L373.91 42.50 L374.66 42.51 L375.40 42.52 L376.15 42.53 L376.90 42.55 L377.65 42.57 L378.40 42.59 L379.15 42.61 L379.90 42.63 L380.64 42.66 L381.39 42.69 L382.14 42.73 L382.89 42.76 L383.64 42.81 L384.39 42.86 L385.14 42.91 L385.88 42.97 L386.63 43.04 L387.38 43.12 L388.13 43.20 L388.88 43.30 L389.63 43.40 L390.38 43.52 L391.12 43.65 L391.87 43.79 L392.62 43.95 L393.37 44.13 L394.12 44.32 L394.87 44.53 L395.62 44.77 L396.36 45.02 L397.11 45.30 L397.86 45.59 L398.61 45.92 L399.36 46.26 L400.11 46.63 L400.85 47.02 L401.60 47.44 L402.35 47.88 L403.10 48.33 L403.85 48.81 L404.60 49.30 L405.35 49.81 L406.09 50.32 L406.84 50.84 L407.59 51.36 L408.34 51.88 L409.09 52.40 L409.84 52.91 L410.59 53.40 L411.33 53.89 L412.08 54.35 L412.83 54.80 L413.58 55.22 L414.33 55.62 L415.08 56.00 L415.83 56.36 L416.57 56.69 L417.32 57.00 L418.07 57.28 L418.82 57.54 L419.57 57.78 L420.32 58.00 L421.07 58.20 L421.81 58.39 L422.56 58.55 L423.31 58.70 L424.06 58.84 L424.81 58.96 L425.56 59.07 L426.31 59.17 L427.05 59.26 L427.80 59.34 L428.55 59.41 L429.30 59.47 L430.05 59.53 L430.80 59.58 L431.55 59.63 L432.29 59.67 L433.04 59.70 L433.79 59.73 L434.54 59.76" stroke="#23427F" stroke-width="1.45" fill="none" stroke-dasharray="2,1.2"/>
<rect x="328.30" y="40.97" width="2.89" height="2.89" fill="#23427F"/>
<line x1="364.70" y1="38.62" x2="364.70" y2="46.20" stroke="#23427F" stroke-width="0.9"/>
<line x1="362.90" y1="38.62" x2="366.50" y2="38.62" stroke="#23427F" stroke-width="0.9"/>
<line x1="362.90" y1="46.20" x2="366.50" y2="46.20" stroke="#23427F" stroke-width="0.9"/>
<rect x="363.26" y="40.97" width="2.89" height="2.89" fill="#23427F"/>
<line x1="399.62" y1="44.48" x2="399.62" y2="47.24" stroke="#23427F" stroke-width="0.9"/>
<line x1="397.82" y1="44.48" x2="401.42" y2="44.48" stroke="#23427F" stroke-width="0.9"/>
<line x1="397.82" y1="47.24" x2="401.42" y2="47.24" stroke="#23427F" stroke-width="0.9"/>
<rect x="398.18" y="44.41" width="2.89" height="2.89" fill="#23427F"/>
<rect x="433.10" y="57.86" width="2.89" height="2.89" fill="#23427F"/>
<path d="M329.74 41.76 L330.49 41.76 L331.24 41.77 L331.99 41.77 L332.74 41.77 L333.48 41.78 L334.23 41.78 L334.98 41.78 L335.73 41.79 L336.48 41.79 L337.23 41.80 L337.98 41.81 L338.72 41.81 L339.47 41.82 L340.22 41.83 L340.97 41.84 L341.72 41.85 L342.47 41.85 L343.22 41.86 L343.96 41.88 L344.71 41.89 L345.46 41.90 L346.21 41.91 L346.96 41.93 L347.71 41.95 L348.46 41.96 L349.20 41.98 L349.95 42.00 L350.70 42.02 L351.45 42.05 L352.20 42.07 L352.95 42.10 L353.70 42.13 L354.44 42.16 L355.19 42.19 L355.94 42.23 L356.69 42.27 L357.44 42.31 L358.19 42.35 L358.94 42.40 L359.68 42.45 L360.43 42.51 L361.18 42.57 L361.93 42.63 L362.68 42.70 L363.43 42.77 L364.18 42.85 L364.92 42.94 L365.67 43.03 L366.42 43.13 L367.17 43.24 L367.92 43.35 L368.67 43.47 L369.42 43.60 L370.16 43.74 L370.91 43.89 L371.66 44.05 L372.41 44.23 L373.16 44.41 L373.91 44.61 L374.66 44.82 L375.40 45.05 L376.15 45.29 L376.90 45.55 L377.65 45.82 L378.40 46.12 L379.15 46.43 L379.90 46.76 L380.64 47.12 L381.39 47.49 L382.14 47.89 L382.89 48.32 L383.64 48.77 L384.39 49.25 L385.14 49.75 L385.88 50.28 L386.63 50.85 L387.38 51.44 L388.13 52.06 L388.88 52.72 L389.63 53.40 L390.38 54.12 L391.12 54.87 L391.87 55.66 L392.62 56.47 L393.37 57.32 L394.12 58.20 L394.87 59.11 L395.62 60.06 L396.36 61.02 L397.11 62.02 L397.86 63.04 L398.61 64.09 L399.36 65.15 L400.11 66.24 L400.85 67.34 L401.60 68.46 L402.35 69.58 L403.10 70.72 L403.85 71.85 L404.60 72.99 L405.35 74.13 L406.09 75.27 L406.84 76.39 L407.59 77.51 L408.34 78.61 L409.09 79.69 L409.84 80.76 L410.59 81.80 L411.33 82.82 L412.08 83.82 L412.83 84.79 L413.58 85.73 L414.33 86.64 L415.08 87.52 L415.83 88.36 L416.57 89.18 L417.32 89.96 L418.07 90.71 L418.82 91.43 L419.57 92.12 L420.32 92.77 L421.07 93.39 L421.81 93.99 L422.56 94.55 L423.31 95.08 L424.06 95.58 L424.81 96.06 L425.56 96.51 L426.31 96.93 L427.05 97.33 L427.80 97.71 L428.55 98.06 L429.30 98.40 L430.05 98.71 L430.80 99.00 L431.55 99.28 L432.29 99.53 L433.04 99.78 L433.79 100.00 L434.54 100.21" stroke="#23427F" stroke-width="1.45" fill="none" stroke-dasharray="4,2"/>
<path d="M328.04 43.77L331.44 43.77L329.74 40.71Z" fill="#23427F"/>
<line x1="364.70" y1="39.65" x2="364.70" y2="45.17" stroke="#23427F" stroke-width="0.9"/>
<line x1="362.90" y1="39.65" x2="366.50" y2="39.65" stroke="#23427F" stroke-width="0.9"/>
<line x1="362.90" y1="45.17" x2="366.50" y2="45.17" stroke="#23427F" stroke-width="0.9"/>
<path d="M363.00 43.77L366.40 43.77L364.70 40.71Z" fill="#23427F"/>
<line x1="399.62" y1="60.34" x2="399.62" y2="65.86" stroke="#23427F" stroke-width="0.9"/>
<line x1="397.82" y1="60.34" x2="401.42" y2="60.34" stroke="#23427F" stroke-width="0.9"/>
<line x1="397.82" y1="65.86" x2="401.42" y2="65.86" stroke="#23427F" stroke-width="0.9"/>
<path d="M397.92 64.46L401.32 64.46L399.62 61.40Z" fill="#23427F"/>
<line x1="434.54" y1="97.58" x2="434.54" y2="100.34" stroke="#23427F" stroke-width="0.9"/>
<line x1="432.74" y1="97.58" x2="436.34" y2="97.58" stroke="#23427F" stroke-width="0.9"/>
<line x1="432.74" y1="100.34" x2="436.34" y2="100.34" stroke="#23427F" stroke-width="0.9"/>
<path d="M432.84 100.32L436.24 100.32L434.54 97.26Z" fill="#23427F"/>
<path d="M329.74 44.06 L330.49 44.18 L331.24 44.31 L331.99 44.45 L332.74 44.59 L333.48 44.73 L334.23 44.88 L334.98 45.04 L335.73 45.20 L336.48 45.36 L337.23 45.53 L337.98 45.70 L338.72 45.88 L339.47 46.06 L340.22 46.25 L340.97 46.45 L341.72 46.65 L342.47 46.86 L343.22 47.07 L343.96 47.29 L344.71 47.52 L345.46 47.75 L346.21 47.99 L346.96 48.23 L347.71 48.49 L348.46 48.75 L349.20 49.01 L349.95 49.29 L350.70 49.57 L351.45 49.86 L352.20 50.15 L352.95 50.46 L353.70 50.77 L354.44 51.09 L355.19 51.42 L355.94 51.75 L356.69 52.10 L357.44 52.45 L358.19 52.81 L358.94 53.18 L359.68 53.55 L360.43 53.94 L361.18 54.33 L361.93 54.73 L362.68 55.14 L363.43 55.56 L364.18 55.99 L364.92 56.43 L365.67 56.87 L366.42 57.32 L367.17 57.78 L367.92 58.25 L368.67 58.73 L369.42 59.21 L370.16 59.71 L370.91 60.21 L371.66 60.71 L372.41 61.23 L373.16 61.75 L373.91 62.28 L374.66 62.82 L375.40 63.36 L376.15 63.91 L376.90 64.47 L377.65 65.03 L378.40 65.60 L379.15 66.17 L379.90 66.75 L380.64 67.34 L381.39 67.92 L382.14 68.52 L382.89 69.11 L383.64 69.71 L384.39 70.31 L385.14 70.92 L385.88 71.53 L386.63 72.14 L387.38 72.75 L388.13 73.36 L388.88 73.98 L389.63 74.59 L390.38 75.21 L391.12 75.82 L391.87 76.44 L392.62 77.05 L393.37 77.66 L394.12 78.27 L394.87 78.88 L395.62 79.48 L396.36 80.08 L397.11 80.68 L397.86 81.28 L398.61 81.87 L399.36 82.46 L400.11 83.04 L400.85 83.62 L401.60 84.19 L402.35 84.75 L403.10 85.32 L403.85 85.87 L404.60 86.42 L405.35 86.96 L406.09 87.50 L406.84 88.02 L407.59 88.55 L408.34 89.06 L409.09 89.56 L409.84 90.06 L410.59 90.55 L411.33 91.04 L412.08 91.51 L412.83 91.98 L413.58 92.44 L414.33 92.89 L415.08 93.33 L415.83 93.76 L416.57 94.19 L417.32 94.60 L418.07 95.01 L418.82 95.41 L419.57 95.80 L420.32 96.19 L421.07 96.56 L421.81 96.93 L422.56 97.29 L423.31 97.64 L424.06 97.98 L424.81 98.31 L425.56 98.64 L426.31 98.95 L427.05 99.26 L427.80 99.57 L428.55 99.86 L429.30 100.15 L430.05 100.43 L430.80 100.70 L431.55 100.96 L432.29 101.22 L433.04 101.47 L433.79 101.72 L434.54 101.95" stroke="#23427F" stroke-width="1.45" fill="none"/>
<path d="M328.04 41.05L331.44 41.05L329.74 44.11Z" fill="#23427F"/>
<line x1="364.70" y1="53.44" x2="364.70" y2="56.20" stroke="#23427F" stroke-width="0.9"/>
<line x1="362.90" y1="53.44" x2="366.50" y2="53.44" stroke="#23427F" stroke-width="0.9"/>
<line x1="362.90" y1="56.20" x2="366.50" y2="56.20" stroke="#23427F" stroke-width="0.9"/>
<path d="M363.00 53.46L366.40 53.46L364.70 56.52Z" fill="#23427F"/>
<path d="M397.92 81.05L401.32 81.05L399.62 84.11Z" fill="#23427F"/>
<line x1="434.54" y1="101.72" x2="434.54" y2="104.47" stroke="#23427F" stroke-width="0.9"/>
<line x1="432.74" y1="101.72" x2="436.34" y2="101.72" stroke="#23427F" stroke-width="0.9"/>
<line x1="432.74" y1="104.47" x2="436.34" y2="104.47" stroke="#23427F" stroke-width="0.9"/>
<path d="M432.84 101.74L436.24 101.74L434.54 104.80Z" fill="#23427F"/>
<path d="M329.74 50.77 L330.49 51.02 L331.24 51.29 L331.99 51.56 L332.74 51.84 L333.48 52.13 L334.23 52.43 L334.98 52.74 L335.73 53.05 L336.48 53.38 L337.23 53.71 L337.98 54.06 L338.72 54.41 L339.47 54.78 L340.22 55.15 L340.97 55.54 L341.72 55.93 L342.47 56.34 L343.22 56.76 L343.96 57.18 L344.71 57.62 L345.46 58.07 L346.21 58.52 L346.96 58.99 L347.71 59.47 L348.46 59.96 L349.20 60.46 L349.95 60.97 L350.70 61.50 L351.45 62.03 L352.20 62.57 L352.95 63.12 L353.70 63.68 L354.44 64.25 L355.19 64.83 L355.94 65.42 L356.69 66.01 L357.44 66.62 L358.19 67.23 L358.94 67.85 L359.68 68.48 L360.43 69.12 L361.18 69.76 L361.93 70.41 L362.68 71.06 L363.43 71.72 L364.18 72.39 L364.92 73.06 L365.67 73.73 L366.42 74.41 L367.17 75.09 L367.92 75.77 L368.67 76.45 L369.42 77.13 L370.16 77.82 L370.91 78.50 L371.66 79.19 L372.41 79.87 L373.16 80.55 L373.91 81.23 L374.66 81.91 L375.40 82.58 L376.15 83.25 L376.90 83.92 L377.65 84.58 L378.40 85.23 L379.15 85.89 L379.90 86.53 L380.64 87.17 L381.39 87.80 L382.14 88.42 L382.89 89.04 L383.64 89.65 L384.39 90.25 L385.14 90.84 L385.88 91.42 L386.63 91.99 L387.38 92.56 L388.13 93.11 L388.88 93.65 L389.63 94.19 L390.38 94.71 L391.12 95.23 L391.87 95.73 L392.62 96.22 L393.37 96.71 L394.12 97.18 L394.87 97.64 L395.62 98.09 L396.36 98.53 L397.11 98.96 L397.86 99.38 L398.61 99.79 L399.36 100.19 L400.11 100.58 L400.85 100.96 L401.60 101.32 L402.35 101.68 L403.10 102.03 L403.85 102.37 L404.60 102.70 L405.35 103.02 L406.09 103.33 L406.84 103.63 L407.59 103.92 L408.34 104.20 L409.09 104.48 L409.84 104.74 L410.59 105.00 L411.33 105.25 L412.08 105.49 L412.83 105.73 L413.58 105.95 L414.33 106.17 L415.08 106.39 L415.83 106.59 L416.57 106.79 L417.32 106.98 L418.07 107.17 L418.82 107.35 L419.57 107.52 L420.32 107.69 L421.07 107.85 L421.81 108.00 L422.56 108.15 L423.31 108.30 L424.06 108.44 L424.81 108.57 L425.56 108.70 L426.31 108.83 L427.05 108.95 L427.80 109.07 L428.55 109.18 L429.30 109.29 L430.05 109.39 L430.80 109.50 L431.55 109.59 L432.29 109.69 L433.04 109.78 L433.79 109.86 L434.54 109.95" stroke="#AE0F36" stroke-width="1.45" fill="none"/>
<line x1="329.74" y1="47.93" x2="329.74" y2="52.07" stroke="#AE0F36" stroke-width="0.9"/>
<line x1="327.94" y1="47.93" x2="331.54" y2="47.93" stroke="#AE0F36" stroke-width="0.9"/>
<line x1="327.94" y1="52.07" x2="331.54" y2="52.07" stroke="#AE0F36" stroke-width="0.9"/>
<circle cx="329.74" cy="50.00" r="1.61" fill="#AE0F36"/>
<circle cx="364.70" cy="73.10" r="1.61" fill="#AE0F36"/>
<circle cx="399.62" cy="99.99" r="1.61" fill="#AE0F36"/>
<circle cx="434.54" cy="109.65" r="1.61" fill="#AE0F36"/>
<rect x="394.65" y="76.25" width="1.9" height="1.9" fill="#252525"/>
<rect x="397.55" y="76.25" width="1.9" height="1.9" fill="#252525"/>
<rect x="400.45" y="76.25" width="1.9" height="1.9" fill="#252525"/>
<rect x="430.15" y="93.45" width="1.9" height="1.9" fill="#252525"/>
<rect x="433.05" y="93.45" width="1.9" height="1.9" fill="#252525"/>
<rect x="435.95" y="93.45" width="1.9" height="1.9" fill="#252525"/>
<line x1="461.00" y1="56.00" x2="471.90" y2="56.00" stroke="#AE0F36" stroke-width="1.35"/>
<circle cx="466.50" cy="56.00" r="1.52" fill="#AE0F36"/>
<text x="475.00" y="58.80" font-size="8.0" text-anchor="start" font-weight="normal" fill="#1a1a1a" stroke="#1a1a1a" stroke-width="0.18" textLength="20.43" lengthAdjust="spacingAndGlyphs">HL-60</text>
<line x1="461.00" y1="64.75" x2="471.90" y2="64.75" stroke="#23427F" stroke-width="1.35" stroke-dasharray="1.6,1.4"/>
<rect x="465.14" y="63.39" width="2.72" height="2.72" fill="#23427F"/>
<text x="475.00" y="67.55" font-size="8.0" text-anchor="start" font-weight="normal" fill="#1a1a1a" stroke="#1a1a1a" stroke-width="0.18" textLength="16.26" lengthAdjust="spacingAndGlyphs">Mino</text>
<line x1="461.00" y1="73.50" x2="471.90" y2="73.50" stroke="#23427F" stroke-width="1.35"/>
<path d="M464.90 74.78L468.10 74.78L466.50 71.90Z" fill="#23427F"/>
<text x="475.00" y="76.30" font-size="8.0" text-anchor="start" font-weight="normal" fill="#1a1a1a" stroke="#1a1a1a" stroke-width="0.18" textLength="38.35" lengthAdjust="spacingAndGlyphs">Mino (75%)</text>
<line x1="461.00" y1="82.25" x2="471.90" y2="82.25" stroke="#23427F" stroke-width="1.35"/>
<path d="M464.90 80.97L468.10 80.97L466.50 83.85Z" fill="#23427F"/>
<text x="475.00" y="85.05" font-size="8.0" text-anchor="start" font-weight="normal" fill="#1a1a1a" stroke="#1a1a1a" stroke-width="0.18" textLength="38.35" lengthAdjust="spacingAndGlyphs">Mino (50%)</text>
<text x="8.00" y="166.90" font-size="11.4" text-anchor="start" font-weight="bold" fill="#111" stroke="#111" stroke-width="0.45">C</text>
<line x1="52.50" y1="175.00" x2="52.50" y2="265.00" stroke="#1e1e1e" stroke-width="1.15"/>
<line x1="49.50" y1="264.50" x2="52.50" y2="264.50" stroke="#1e1e1e" stroke-width="1.0"/>
<text x="46.90" y="267.70" font-size="8.2" text-anchor="end" font-weight="normal" fill="#1a1a1a" stroke="#1a1a1a" stroke-width="0.18">0</text>
<line x1="49.50" y1="250.08" x2="52.50" y2="250.08" stroke="#1e1e1e" stroke-width="1.0"/>
<text x="46.90" y="253.28" font-size="8.2" text-anchor="end" font-weight="normal" fill="#1a1a1a" stroke="#1a1a1a" stroke-width="0.18">20</text>
<line x1="49.50" y1="235.67" x2="52.50" y2="235.67" stroke="#1e1e1e" stroke-width="1.0"/>
<text x="46.90" y="238.87" font-size="8.2" text-anchor="end" font-weight="normal" fill="#1a1a1a" stroke="#1a1a1a" stroke-width="0.18">40</text>
<line x1="49.50" y1="221.25" x2="52.50" y2="221.25" stroke="#1e1e1e" stroke-width="1.0"/>
<text x="46.90" y="224.45" font-size="8.2" text-anchor="end" font-weight="normal" fill="#1a1a1a" stroke="#1a1a1a" stroke-width="0.18">60</text>
<line x1="49.50" y1="206.84" x2="52.50" y2="206.84" stroke="#1e1e1e" stroke-width="1.0"/>
<text x="46.90" y="210.04" font-size="8.2" text-anchor="end" font-weight="normal" fill="#1a1a1a" stroke="#1a1a1a" stroke-width="0.18">80</text>
<line x1="49.50" y1="192.42" x2="52.50" y2="192.42" stroke="#1e1e1e" stroke-width="1.0"/>
<text x="46.90" y="195.62" font-size="8.2" text-anchor="end" font-weight="normal" fill="#1a1a1a" stroke="#1a1a1a" stroke-width="0.18">100</text>
<line x1="49.50" y1="178.00" x2="52.50" y2="178.00" stroke="#1e1e1e" stroke-width="1.0"/>
<text x="46.90" y="181.20" font-size="8.2" text-anchor="end" font-weight="normal" fill="#1a1a1a" stroke="#1a1a1a" stroke-width="0.18">120</text>
<line x1="51.00" y1="264.80" x2="175.40" y2="264.80" stroke="#1e1e1e" stroke-width="1.15"/>
<line x1="52.60" y1="264.80" x2="52.60" y2="267.80" stroke="#1e1e1e" stroke-width="1.0"/>
<line x1="61.69" y1="264.80" x2="61.69" y2="267.00" stroke="#1e1e1e" stroke-width="0.95"/>
<line x1="67.01" y1="264.80" x2="67.01" y2="267.00" stroke="#1e1e1e" stroke-width="0.95"/>
<line x1="70.78" y1="264.80" x2="70.78" y2="267.00" stroke="#1e1e1e" stroke-width="0.95"/>
<line x1="73.71" y1="264.80" x2="73.71" y2="267.00" stroke="#1e1e1e" stroke-width="0.95"/>
<line x1="76.10" y1="264.80" x2="76.10" y2="267.00" stroke="#1e1e1e" stroke-width="0.95"/>
<line x1="78.12" y1="264.80" x2="78.12" y2="267.00" stroke="#1e1e1e" stroke-width="0.95"/>
<line x1="79.87" y1="264.80" x2="79.87" y2="267.00" stroke="#1e1e1e" stroke-width="0.95"/>
<line x1="81.42" y1="264.80" x2="81.42" y2="267.00" stroke="#1e1e1e" stroke-width="0.95"/>
<line x1="82.80" y1="264.80" x2="82.80" y2="267.80" stroke="#1e1e1e" stroke-width="1.0"/>
<line x1="91.89" y1="264.80" x2="91.89" y2="267.00" stroke="#1e1e1e" stroke-width="0.95"/>
<line x1="97.21" y1="264.80" x2="97.21" y2="267.00" stroke="#1e1e1e" stroke-width="0.95"/>
<line x1="100.98" y1="264.80" x2="100.98" y2="267.00" stroke="#1e1e1e" stroke-width="0.95"/>
<line x1="103.91" y1="264.80" x2="103.91" y2="267.00" stroke="#1e1e1e" stroke-width="0.95"/>
<line x1="106.30" y1="264.80" x2="106.30" y2="267.00" stroke="#1e1e1e" stroke-width="0.95"/>
<line x1="108.32" y1="264.80" x2="108.32" y2="267.00" stroke="#1e1e1e" stroke-width="0.95"/>
<line x1="110.07" y1="264.80" x2="110.07" y2="267.00" stroke="#1e1e1e" stroke-width="0.95"/>
<line x1="111.62" y1="264.80" x2="111.62" y2="267.00" stroke="#1e1e1e" stroke-width="0.95"/>
<line x1="113.00" y1="264.80" x2="113.00" y2="267.80" stroke="#1e1e1e" stroke-width="1.0"/>
<line x1="122.09" y1="264.80" x2="122.09" y2="267.00" stroke="#1e1e1e" stroke-width="0.95"/>
<line x1="127.41" y1="264.80" x2="127.41" y2="267.00" stroke="#1e1e1e" stroke-width="0.95"/>
<line x1="131.18" y1="264.80" x2="131.18" y2="267.00" stroke="#1e1e1e" stroke-width="0.95"/>
<line x1="134.11" y1="264.80" x2="134.11" y2="267.00" stroke="#1e1e1e" stroke-width="0.95"/>
<line x1="136.50" y1="264.80" x2="136.50" y2="267.00" stroke="#1e1e1e" stroke-width="0.95"/>
<line x1="138.52" y1="264.80" x2="138.52" y2="267.00" stroke="#1e1e1e" stroke-width="0.95"/>
<line x1="140.27" y1="264.80" x2="140.27" y2="267.00" stroke="#1e1e1e" stroke-width="0.95"/>
<line x1="141.82" y1="264.80" x2="141.82" y2="267.00" stroke="#1e1e1e" stroke-width="0.95"/>
<line x1="143.20" y1="264.80" x2="143.20" y2="267.80" stroke="#1e1e1e" stroke-width="1.0"/>
<line x1="152.29" y1="264.80" x2="152.29" y2="267.00" stroke="#1e1e1e" stroke-width="0.95"/>
<line x1="157.61" y1="264.80" x2="157.61" y2="267.00" stroke="#1e1e1e" stroke-width="0.95"/>
<line x1="161.38" y1="264.80" x2="161.38" y2="267.00" stroke="#1e1e1e" stroke-width="0.95"/>
<line x1="164.31" y1="264.80" x2="164.31" y2="267.00" stroke="#1e1e1e" stroke-width="0.95"/>
<line x1="166.70" y1="264.80" x2="166.70" y2="267.00" stroke="#1e1e1e" stroke-width="0.95"/>
<line x1="168.72" y1="264.80" x2="168.72" y2="267.00" stroke="#1e1e1e" stroke-width="0.95"/>
<line x1="170.47" y1="264.80" x2="170.47" y2="267.00" stroke="#1e1e1e" stroke-width="0.95"/>
<line x1="172.02" y1="264.80" x2="172.02" y2="267.00" stroke="#1e1e1e" stroke-width="0.95"/>
<line x1="173.40" y1="264.80" x2="173.40" y2="267.80" stroke="#1e1e1e" stroke-width="1.0"/>
<text x="53.00" y="277.70" font-size="8.2" text-anchor="middle" font-weight="normal" fill="#1a1a1a" stroke="#1a1a1a" stroke-width="0.18">0.01</text>
<text x="83.20" y="277.70" font-size="8.2" text-anchor="middle" font-weight="normal" fill="#1a1a1a" stroke="#1a1a1a" stroke-width="0.18">0.1</text>
<text x="113.40" y="277.70" font-size="8.2" text-anchor="middle" font-weight="normal" fill="#1a1a1a" stroke="#1a1a1a" stroke-width="0.18">1</text>
<text x="143.60" y="277.70" font-size="8.2" text-anchor="middle" font-weight="normal" fill="#1a1a1a" stroke="#1a1a1a" stroke-width="0.18">10</text>
<text x="173.80" y="277.70" font-size="8.2" text-anchor="middle" font-weight="normal" fill="#1a1a1a" stroke="#1a1a1a" stroke-width="0.18">100</text>
<text x="81.32" y="291.10" font-size="11" font-weight="normal" fill="#1a1a1a" stroke="#1a1a1a" stroke-width="0.42" textLength="65.74" lengthAdjust="spacingAndGlyphs">Dose (% of maximum)</text>
<text x="26.90" y="232.28" font-size="9.8" font-weight="normal" fill="#1a1a1a" stroke="#1a1a1a" stroke-width="0.42" textLength="24.62" lengthAdjust="spacingAndGlyphs" transform="rotate(-90 26.90 232.28)">% viable</text>
<path d="M64.62 195.39 L65.39 195.40 L66.17 195.41 L66.95 195.42 L67.73 195.43 L68.50 195.44 L69.28 195.45 L70.06 195.46 L70.83 195.48 L71.61 195.49 L72.39 195.51 L73.16 195.53 L73.94 195.55 L74.72 195.57 L75.50 195.59 L76.27 195.62 L77.05 195.65 L77.83 195.68 L78.60 195.71 L79.38 195.75 L80.16 195.79 L80.94 195.83 L81.71 195.87 L82.49 195.93 L83.27 195.98 L84.04 196.04 L84.82 196.11 L85.60 196.18 L86.37 196.26 L87.15 196.34 L87.93 196.43 L88.71 196.53 L89.48 196.64 L90.26 196.76 L91.04 196.88 L91.81 197.02 L92.59 197.17 L93.37 197.33 L94.14 197.51 L94.92 197.70 L95.70 197.91 L96.48 198.13 L97.25 198.37 L98.03 198.64 L98.81 198.92 L99.58 199.23 L100.36 199.56 L101.14 199.91 L101.91 200.30 L102.69 200.71 L103.47 201.15 L104.25 201.63 L105.02 202.14 L105.80 202.69 L106.58 203.27 L107.35 203.90 L108.13 204.57 L108.91 205.28 L109.68 206.04 L110.46 206.84 L111.24 207.69 L112.02 208.59 L112.79 209.53 L113.57 210.53 L114.35 211.57 L115.12 212.66 L115.90 213.81 L116.68 214.99 L117.45 216.23 L118.23 217.50 L119.01 218.81 L119.79 220.17 L120.56 221.55 L121.34 222.96 L122.12 224.40 L122.89 225.86 L123.67 227.33 L124.45 228.81 L125.23 230.30 L126.00 231.78 L126.78 233.26 L127.56 234.72 L128.33 236.17 L129.11 237.60 L129.89 239.00 L130.66 240.36 L131.44 241.69 L132.22 242.99 L133.00 244.24 L133.77 245.45 L134.55 246.61 L135.33 247.73 L136.10 248.79 L136.88 249.81 L137.66 250.78 L138.43 251.70 L139.21 252.57 L139.99 253.40 L140.77 254.18 L141.54 254.91 L142.32 255.60 L143.10 256.24 L143.87 256.85 L144.65 257.41 L145.43 257.94 L146.20 258.43 L146.98 258.89 L147.76 259.32 L148.54 259.72 L149.31 260.08 L150.09 260.43 L150.87 260.74 L151.64 261.04 L152.42 261.31 L153.20 261.56 L153.97 261.79 L154.75 262.01 L155.53 262.21 L156.31 262.39 L157.08 262.56 L157.86 262.71 L158.64 262.86 L159.41 262.99 L160.19 263.11 L160.97 263.22 L161.74 263.33 L162.52 263.42 L163.30 263.51 L164.08 263.59 L164.85 263.66 L165.63 263.73 L166.41 263.79 L167.18 263.85 L167.96 263.91 L168.74 263.95 L169.51 264.00 L170.29 264.04 L171.07 264.08 L171.85 264.11 L172.62 264.14 L173.40 264.17" stroke="#23427F" stroke-width="1.45" fill="none"/>
<rect x="63.17" y="193.50" width="2.89" height="2.89" fill="#23427F"/>
<line x1="82.80" y1="194.58" x2="82.80" y2="197.47" stroke="#23427F" stroke-width="0.9"/>
<line x1="81.00" y1="194.58" x2="84.60" y2="194.58" stroke="#23427F" stroke-width="0.9"/>
<line x1="81.00" y1="197.47" x2="84.60" y2="197.47" stroke="#23427F" stroke-width="0.9"/>
<rect x="81.36" y="194.58" width="2.89" height="2.89" fill="#23427F"/>
<line x1="100.98" y1="198.55" x2="100.98" y2="201.43" stroke="#23427F" stroke-width="0.9"/>
<line x1="99.18" y1="198.55" x2="102.78" y2="198.55" stroke="#23427F" stroke-width="0.9"/>
<line x1="99.18" y1="201.43" x2="102.78" y2="201.43" stroke="#23427F" stroke-width="0.9"/>
<rect x="99.54" y="198.54" width="2.89" height="2.89" fill="#23427F"/>
<rect x="117.72" y="215.48" width="2.89" height="2.89" fill="#23427F"/>
<rect x="135.90" y="250.08" width="2.89" height="2.89" fill="#23427F"/>
<rect x="154.08" y="262.33" width="2.89" height="2.89" fill="#23427F"/>
<rect x="171.96" y="263.06" width="2.89" height="2.89" fill="#23427F"/>
<path d="M64.62 191.86 L65.39 191.87 L66.17 191.88 L66.95 191.90 L67.73 191.92 L68.50 191.93 L69.28 191.95 L70.06 191.97 L70.83 192.00 L71.61 192.02 L72.39 192.05 L73.16 192.08 L73.94 192.11 L74.72 192.14 L75.50 192.18 L76.27 192.22 L77.05 192.26 L77.83 192.31 L78.60 192.36 L79.38 192.41 L80.16 192.47 L80.94 192.54 L81.71 192.61 L82.49 192.68 L83.27 192.76 L84.04 192.85 L84.82 192.94 L85.60 193.04 L86.37 193.15 L87.15 193.27 L87.93 193.40 L88.71 193.54 L89.48 193.68 L90.26 193.85 L91.04 194.02 L91.81 194.20 L92.59 194.41 L93.37 194.62 L94.14 194.85 L94.92 195.11 L95.70 195.37 L96.48 195.66 L97.25 195.97 L98.03 196.31 L98.81 196.67 L99.58 197.05 L100.36 197.46 L101.14 197.90 L101.91 198.37 L102.69 198.87 L103.47 199.40 L104.25 199.97 L105.02 200.57 L105.80 201.22 L106.58 201.90 L107.35 202.62 L108.13 203.38 L108.91 204.19 L109.68 205.04 L110.46 205.93 L111.24 206.87 L112.02 207.85 L112.79 208.88 L113.57 209.95 L114.35 211.07 L115.12 212.22 L115.90 213.42 L116.68 214.66 L117.45 215.94 L118.23 217.25 L119.01 218.59 L119.79 219.96 L120.56 221.35 L121.34 222.77 L122.12 224.20 L122.89 225.64 L123.67 227.10 L124.45 228.55 L125.23 230.01 L126.00 231.45 L126.78 232.89 L127.56 234.31 L128.33 235.72 L129.11 237.10 L129.89 238.45 L130.66 239.77 L131.44 241.06 L132.22 242.31 L133.00 243.53 L133.77 244.70 L134.55 245.83 L135.33 246.92 L136.10 247.96 L136.88 248.96 L137.66 249.92 L138.43 250.83 L139.21 251.70 L139.99 252.52 L140.77 253.30 L141.54 254.03 L142.32 254.73 L143.10 255.39 L143.87 256.01 L144.65 256.59 L145.43 257.13 L146.20 257.65 L146.98 258.13 L147.76 258.58 L148.54 259.00 L149.31 259.39 L150.09 259.76 L150.87 260.10 L151.64 260.42 L152.42 260.72 L153.20 260.99 L153.97 261.25 L154.75 261.49 L155.53 261.71 L156.31 261.92 L157.08 262.11 L157.86 262.29 L158.64 262.46 L159.41 262.61 L160.19 262.75 L160.97 262.88 L161.74 263.00 L162.52 263.12 L163.30 263.22 L164.08 263.32 L164.85 263.41 L165.63 263.49 L166.41 263.57 L167.18 263.64 L167.96 263.70 L168.74 263.76 L169.51 263.82 L170.29 263.87 L171.07 263.92 L171.85 263.96 L172.62 264.00 L173.40 264.04" stroke="#5BAA40" stroke-width="1.45" fill="none"/>
<line x1="64.62" y1="188.38" x2="64.62" y2="194.15" stroke="#5BAA40" stroke-width="0.9"/>
<line x1="62.82" y1="188.38" x2="66.42" y2="188.38" stroke="#5BAA40" stroke-width="0.9"/>
<line x1="62.82" y1="194.15" x2="66.42" y2="194.15" stroke="#5BAA40" stroke-width="0.9"/>
<path d="M64.62 189.57L66.32 191.27L64.62 192.97L62.92 191.27Z" fill="#5BAA40"/>
<line x1="82.80" y1="192.06" x2="82.80" y2="194.94" stroke="#5BAA40" stroke-width="0.9"/>
<line x1="81.00" y1="192.06" x2="84.60" y2="192.06" stroke="#5BAA40" stroke-width="0.9"/>
<line x1="81.00" y1="194.94" x2="84.60" y2="194.94" stroke="#5BAA40" stroke-width="0.9"/>
<path d="M82.80 191.80L84.50 193.50L82.80 195.20L81.10 193.50Z" fill="#5BAA40"/>
<line x1="100.98" y1="197.47" x2="100.98" y2="200.35" stroke="#5BAA40" stroke-width="0.9"/>
<line x1="99.18" y1="197.47" x2="102.78" y2="197.47" stroke="#5BAA40" stroke-width="0.9"/>
<line x1="99.18" y1="200.35" x2="102.78" y2="200.35" stroke="#5BAA40" stroke-width="0.9"/>
<path d="M100.98 197.21L102.68 198.91L100.98 200.61L99.28 198.91Z" fill="#5BAA40"/>
<line x1="119.16" y1="217.29" x2="119.16" y2="220.17" stroke="#5BAA40" stroke-width="0.9"/>
<line x1="117.36" y1="217.29" x2="120.96" y2="217.29" stroke="#5BAA40" stroke-width="0.9"/>
<line x1="117.36" y1="220.17" x2="120.96" y2="220.17" stroke="#5BAA40" stroke-width="0.9"/>
<path d="M119.16 217.03L120.86 218.73L119.16 220.43L117.46 218.73Z" fill="#5BAA40"/>
<path d="M137.35 249.83L139.05 251.53L137.35 253.23L135.65 251.53Z" fill="#5BAA40"/>
<path d="M155.53 261.36L157.23 263.06L155.53 264.76L153.83 263.06Z" fill="#5BAA40"/>
<path d="M173.40 262.80L175.10 264.50L173.40 266.20L171.70 264.50Z" fill="#5BAA40"/>
<path d="M64.62 196.27 L65.39 196.30 L66.17 196.32 L66.95 196.35 L67.73 196.38 L68.50 196.41 L69.28 196.45 L70.06 196.49 L70.83 196.53 L71.61 196.58 L72.39 196.63 L73.16 196.69 L73.94 196.75 L74.72 196.81 L75.50 196.89 L76.27 196.96 L77.05 197.05 L77.83 197.14 L78.60 197.25 L79.38 197.36 L80.16 197.48 L80.94 197.61 L81.71 197.76 L82.49 197.91 L83.27 198.08 L84.04 198.27 L84.82 198.47 L85.60 198.69 L86.37 198.92 L87.15 199.18 L87.93 199.46 L88.71 199.76 L89.48 200.09 L90.26 200.44 L91.04 200.82 L91.81 201.24 L92.59 201.68 L93.37 202.16 L94.14 202.67 L94.92 203.23 L95.70 203.82 L96.48 204.46 L97.25 205.14 L98.03 205.86 L98.81 206.63 L99.58 207.45 L100.36 208.33 L101.14 209.25 L101.91 210.22 L102.69 211.25 L103.47 212.33 L104.25 213.46 L105.02 214.64 L105.80 215.86 L106.58 217.14 L107.35 218.46 L108.13 219.82 L108.91 221.22 L109.68 222.65 L110.46 224.11 L111.24 225.59 L112.02 227.09 L112.79 228.60 L113.57 230.12 L114.35 231.65 L115.12 233.16 L115.90 234.66 L116.68 236.15 L117.45 237.61 L118.23 239.05 L119.01 240.46 L119.79 241.82 L120.56 243.15 L121.34 244.43 L122.12 245.67 L122.89 246.86 L123.67 248.00 L124.45 249.08 L125.23 250.12 L126.00 251.10 L126.78 252.04 L127.56 252.92 L128.33 253.75 L129.11 254.53 L129.89 255.26 L130.66 255.95 L131.44 256.59 L132.22 257.19 L133.00 257.75 L133.77 258.27 L134.55 258.76 L135.33 259.21 L136.10 259.63 L136.88 260.01 L137.66 260.37 L138.43 260.70 L139.21 261.01 L139.99 261.29 L140.77 261.55 L141.54 261.80 L142.32 262.02 L143.10 262.22 L143.87 262.41 L144.65 262.58 L145.43 262.74 L146.20 262.89 L146.98 263.02 L147.76 263.14 L148.54 263.26 L149.31 263.36 L150.09 263.46 L150.87 263.54 L151.64 263.62 L152.42 263.70 L153.20 263.77 L153.97 263.83 L154.75 263.88 L155.53 263.94 L156.31 263.98 L157.08 264.03 L157.86 264.07 L158.64 264.10 L159.41 264.14 L160.19 264.17 L160.97 264.20 L161.74 264.22 L162.52 264.25 L163.30 264.27 L164.08 264.29 L164.85 264.30 L165.63 264.32 L166.41 264.34 L167.18 264.35 L167.96 264.36 L168.74 264.37 L169.51 264.39 L170.29 264.40 L171.07 264.40 L171.85 264.41 L172.62 264.42 L173.40 264.43" stroke="#AE0F36" stroke-width="1.45" fill="none"/>
<line x1="64.62" y1="194.94" x2="64.62" y2="197.83" stroke="#AE0F36" stroke-width="0.9"/>
<line x1="62.82" y1="194.94" x2="66.42" y2="194.94" stroke="#AE0F36" stroke-width="0.9"/>
<line x1="62.82" y1="197.83" x2="66.42" y2="197.83" stroke="#AE0F36" stroke-width="0.9"/>
<path d="M62.92 197.74L66.32 197.74L64.62 194.68Z" fill="#AE0F36"/>
<line x1="82.80" y1="197.47" x2="82.80" y2="200.35" stroke="#AE0F36" stroke-width="0.9"/>
<line x1="81.00" y1="197.47" x2="84.60" y2="197.47" stroke="#AE0F36" stroke-width="0.9"/>
<line x1="81.00" y1="200.35" x2="84.60" y2="200.35" stroke="#AE0F36" stroke-width="0.9"/>
<path d="M81.10 200.27L84.50 200.27L82.80 197.21Z" fill="#AE0F36"/>
<path d="M99.28 209.64L102.68 209.64L100.98 206.58Z" fill="#AE0F36"/>
<path d="M117.46 238.83L120.86 238.83L119.16 235.77Z" fill="#AE0F36"/>
<path d="M135.65 265.50L139.05 265.50L137.35 262.44Z" fill="#AE0F36"/>
<path d="M153.83 265.86L157.23 265.86L155.53 262.80Z" fill="#AE0F36"/>
<path d="M171.70 265.86L175.10 265.86L173.40 262.80Z" fill="#AE0F36"/>
<line x1="179.40" y1="203.00" x2="189.80" y2="203.00" stroke="#5BAA40" stroke-width="1.3"/>
<path d="M184.60 201.40L186.20 203.00L184.60 204.60L183.00 203.00Z" fill="#5BAA40"/>
<text x="192.90" y="205.80" font-size="7.5" text-anchor="start" font-weight="normal" fill="#1a1a1a" stroke="#1a1a1a" stroke-width="0.18" textLength="38.60" lengthAdjust="spacingAndGlyphs">DCR-2PBD</text>
<line x1="179.40" y1="215.40" x2="189.80" y2="215.40" stroke="#23427F" stroke-width="1.3"/>
<rect x="183.24" y="214.04" width="2.72" height="2.72" fill="#23427F"/>
<text x="192.90" y="218.20" font-size="7.5" text-anchor="start" font-weight="normal" fill="#1a1a1a" stroke="#1a1a1a" stroke-width="0.18" textLength="39.88" lengthAdjust="spacingAndGlyphs">Fludarabine</text>
<line x1="179.40" y1="226.80" x2="189.80" y2="226.80" stroke="#AE0F36" stroke-width="1.3"/>
<path d="M183.00 228.08L186.20 228.08L184.60 225.20Z" fill="#AE0F36"/>
<text x="192.90" y="229.60" font-size="7.5" text-anchor="start" font-weight="normal" fill="#1a1a1a" stroke="#1a1a1a" stroke-width="0.18" textLength="45.10" lengthAdjust="spacingAndGlyphs">DCR-2PBD +</text>
<text x="192.90" y="238.60" font-size="7.5" text-anchor="start" font-weight="normal" fill="#1a1a1a" stroke="#1a1a1a" stroke-width="0.18" textLength="39.88" lengthAdjust="spacingAndGlyphs">Fludarabine</text>
<text x="273.75" y="166.90" font-size="11.4" text-anchor="start" font-weight="bold" fill="#111" stroke="#111" stroke-width="0.45">D</text>
<line x1="318.25" y1="174.25" x2="318.25" y2="265.00" stroke="#1e1e1e" stroke-width="1.15"/>
<line x1="315.25" y1="264.50" x2="318.25" y2="264.50" stroke="#1e1e1e" stroke-width="1.0"/>
<text x="312.65" y="267.40" font-size="8.2" text-anchor="end" font-weight="normal" fill="#1a1a1a" stroke="#1a1a1a" stroke-width="0.18">0</text>
<line x1="315.25" y1="246.95" x2="318.25" y2="246.95" stroke="#1e1e1e" stroke-width="1.0"/>
<text x="312.65" y="249.85" font-size="8.2" text-anchor="end" font-weight="normal" fill="#1a1a1a" stroke="#1a1a1a" stroke-width="0.18">20</text>
<line x1="315.25" y1="229.40" x2="318.25" y2="229.40" stroke="#1e1e1e" stroke-width="1.0"/>
<text x="312.65" y="232.30" font-size="8.2" text-anchor="end" font-weight="normal" fill="#1a1a1a" stroke="#1a1a1a" stroke-width="0.18">40</text>
<line x1="315.25" y1="211.85" x2="318.25" y2="211.85" stroke="#1e1e1e" stroke-width="1.0"/>
<text x="312.65" y="214.75" font-size="8.2" text-anchor="end" font-weight="normal" fill="#1a1a1a" stroke="#1a1a1a" stroke-width="0.18">60</text>
<line x1="315.25" y1="194.30" x2="318.25" y2="194.30" stroke="#1e1e1e" stroke-width="1.0"/>
<text x="312.65" y="197.20" font-size="8.2" text-anchor="end" font-weight="normal" fill="#1a1a1a" stroke="#1a1a1a" stroke-width="0.18">80</text>
<line x1="315.25" y1="176.75" x2="318.25" y2="176.75" stroke="#1e1e1e" stroke-width="1.0"/>
<text x="312.65" y="179.65" font-size="8.2" text-anchor="end" font-weight="normal" fill="#1a1a1a" stroke="#1a1a1a" stroke-width="0.18">100</text>
<line x1="317.80" y1="264.60" x2="429.80" y2="264.60" stroke="#1e1e1e" stroke-width="1.15"/>
<line x1="435.20" y1="264.60" x2="466.20" y2="264.60" stroke="#1e1e1e" stroke-width="1.15"/>
<line x1="429.80" y1="261.80" x2="429.80" y2="267.40" stroke="#1e1e1e" stroke-width="1.0"/>
<line x1="435.20" y1="261.80" x2="435.20" y2="267.40" stroke="#1e1e1e" stroke-width="1.0"/>
<line x1="330.38" y1="264.60" x2="330.38" y2="267.60" stroke="#1e1e1e" stroke-width="1.0"/>
<line x1="338.34" y1="264.60" x2="338.34" y2="267.60" stroke="#1e1e1e" stroke-width="1.0"/>
<line x1="350.28" y1="264.60" x2="350.28" y2="267.60" stroke="#1e1e1e" stroke-width="1.0"/>
<line x1="374.16" y1="264.60" x2="374.16" y2="267.60" stroke="#1e1e1e" stroke-width="1.0"/>
<line x1="421.92" y1="264.60" x2="421.92" y2="267.60" stroke="#1e1e1e" stroke-width="1.0"/>
<line x1="463.50" y1="264.60" x2="463.50" y2="267.60" stroke="#1e1e1e" stroke-width="1.0"/>
<text x="330.38" y="277.70" font-size="8.2" text-anchor="middle" font-weight="normal" fill="#1a1a1a" stroke="#1a1a1a" stroke-width="0.18">1</text>
<text x="338.34" y="277.70" font-size="8.2" text-anchor="middle" font-weight="normal" fill="#1a1a1a" stroke="#1a1a1a" stroke-width="0.18">3</text>
<text x="350.28" y="277.70" font-size="8.2" text-anchor="middle" font-weight="normal" fill="#1a1a1a" stroke="#1a1a1a" stroke-width="0.18">6</text>
<text x="374.16" y="277.70" font-size="8.2" text-anchor="middle" font-weight="normal" fill="#1a1a1a" stroke="#1a1a1a" stroke-width="0.18">12</text>
<text x="421.92" y="277.70" font-size="8.2" text-anchor="middle" font-weight="normal" fill="#1a1a1a" stroke="#1a1a1a" stroke-width="0.18">24</text>
<text x="463.50" y="277.70" font-size="8.2" text-anchor="middle" font-weight="normal" fill="#1a1a1a" stroke="#1a1a1a" stroke-width="0.18">96</text>
<text x="374.52" y="291.10" font-size="11" font-weight="normal" fill="#1a1a1a" stroke="#1a1a1a" stroke-width="0.42" textLength="36.22" lengthAdjust="spacingAndGlyphs">Time (hours)</text>
<text x="293.20" y="231.58" font-size="9.8" font-weight="normal" fill="#1a1a1a" stroke="#1a1a1a" stroke-width="0.42" textLength="25.13" lengthAdjust="spacingAndGlyphs" transform="rotate(-90 293.20 231.58)">% viable</text>
<path d="M330.38 192.55 L330.88 204.52 L331.38 213.54 L331.87 220.52 L332.37 226.06 L332.87 230.53 L333.36 234.21 L333.86 237.27 L334.36 239.86 L334.86 242.06 L335.35 243.96 L335.85 245.61 L336.35 247.05 L336.85 248.32 L337.34 249.44 L337.84 250.44 L338.34 251.33 L338.84 252.14 L339.33 252.87 L339.83 253.53 L340.33 254.13 L340.83 254.67 L341.32 255.18 L341.82 255.64 L342.32 256.06 L342.82 256.45 L343.31 256.82 L343.81 257.15 L344.31 257.47 L344.81 257.76 L345.30 258.03 L345.80 258.28 L346.30 258.52 L346.80 258.75 L347.29 258.96 L347.79 259.16 L348.29 259.34 L348.79 259.52 L349.28 259.68 L349.78 259.84 L350.28 259.99 L350.78 260.13 L351.27 260.27 L351.77 260.39 L352.27 260.52 L352.77 260.63 L353.26 260.74 L353.76 260.85 L354.26 260.95 L354.76 261.04 L355.25 261.14 L355.75 261.22 L356.25 261.31 L356.75 261.39 L357.25 261.46 L357.74 261.54 L358.24 261.61 L358.74 261.68 L359.23 261.74 L359.73 261.81 L360.23 261.87 L360.73 261.93 L361.22 261.98 L361.72 262.04 L362.22 262.09 L362.72 262.14 L363.21 262.19 L363.71 262.24 L364.21 262.28 L364.71 262.33 L365.20 262.37 L365.70 262.41 L366.20 262.45 L366.70 262.49 L367.19 262.53 L367.69 262.57 L368.19 262.60 L368.69 262.64 L369.18 262.67 L369.68 262.70 L370.18 262.73 L370.68 262.76 L371.17 262.79 L371.67 262.82 L372.17 262.85 L372.67 262.88 L373.16 262.90 L373.66 262.93 L374.16 262.96 L374.66 262.98 L375.15 263.00 L375.65 263.03 L376.15 263.05 L376.65 263.07 L377.14 263.09 L377.64 263.12 L378.14 263.14 L378.64 263.16 L379.13 263.18 L379.63 263.19 L380.13 263.21 L380.63 263.23 L381.12 263.25 L381.62 263.27 L382.12 263.28 L382.62 263.30 L383.11 263.32 L383.61 263.33 L384.11 263.35 L384.61 263.36 L385.10 263.38 L385.60 263.39 L386.10 263.41 L386.60 263.42 L387.09 263.43 L387.59 263.45 L388.09 263.46 L388.59 263.47 L389.08 263.49 L389.58 263.50 L390.08 263.51 L390.58 263.52 L391.07 263.53 L391.57 263.55 L392.07 263.56 L392.57 263.57 L393.06 263.58 L393.56 263.59 L394.06 263.60 L394.56 263.61 L395.05 263.62 L395.55 263.63 L396.05 263.64 L396.55 263.65 L397.04 263.66 L397.54 263.67 L398.04 263.68 L398.54 263.68 L399.03 263.69 L399.53 263.70 L400.03 263.71 L400.53 263.72 L401.02 263.73 L401.52 263.73 L402.02 263.74 L402.52 263.75 L403.01 263.76 L403.51 263.76 L404.01 263.77 L404.51 263.78 L405.00 263.79 L405.50 263.79 L406.00 263.80 L406.50 263.81 L407.00 263.81 L407.49 263.82 L407.99 263.83 L408.49 263.83 L408.98 263.84 L409.48 263.84 L409.98 263.85 L410.48 263.86 L410.97 263.86 L411.47 263.87 L411.97 263.87 L412.47 263.88 L412.96 263.88 L413.46 263.89 L413.96 263.90 L414.46 263.90 L414.95 263.91 L415.45 263.91 L415.95 263.92 L416.45 263.92 L416.94 263.93 L417.44 263.93 L417.94 263.94 L418.44 263.94 L418.93 263.94 L419.43 263.95 L419.93 263.95 L420.43 263.96 L420.92 263.96 L421.42 263.97 L421.92 263.97 L422.42 263.98 L422.91 263.98 L423.41 263.98 L423.91 263.99 L424.41 263.99 L424.90 264.00 L425.40 264.00 L425.90 264.00 L426.40 264.01 L426.89 264.01 L427.39 264.01 L427.89 264.02 L428.39 264.02 L428.88 264.03 L429.38 264.03 L429.88 264.03" stroke="#AE0F36" stroke-width="1.55" fill="none"/>
<line x1="435.20" y1="264.24" x2="466.00" y2="264.24" stroke="#AE0F36" stroke-width="1.3"/>
<line x1="330.38" y1="180.26" x2="330.38" y2="204.83" stroke="#AE0F36" stroke-width="0.9"/>
<line x1="328.58" y1="180.26" x2="332.18" y2="180.26" stroke="#AE0F36" stroke-width="0.9"/>
<line x1="328.58" y1="204.83" x2="332.18" y2="204.83" stroke="#AE0F36" stroke-width="0.9"/>
<rect x="329.02" y="191.19" width="2.72" height="2.72" fill="#AE0F36"/>
<line x1="338.34" y1="249.58" x2="338.34" y2="253.09" stroke="#AE0F36" stroke-width="0.9"/>
<line x1="336.54" y1="249.58" x2="340.14" y2="249.58" stroke="#AE0F36" stroke-width="0.9"/>
<line x1="336.54" y1="253.09" x2="340.14" y2="253.09" stroke="#AE0F36" stroke-width="0.9"/>
<rect x="336.98" y="249.98" width="2.72" height="2.72" fill="#AE0F36"/>
<line x1="350.28" y1="253.97" x2="350.28" y2="259.24" stroke="#AE0F36" stroke-width="0.9"/>
<line x1="348.48" y1="253.97" x2="352.08" y2="253.97" stroke="#AE0F36" stroke-width="0.9"/>
<line x1="348.48" y1="259.24" x2="352.08" y2="259.24" stroke="#AE0F36" stroke-width="0.9"/>
<rect x="348.92" y="255.24" width="2.72" height="2.72" fill="#AE0F36"/>
<rect x="373.05" y="261.64" width="2.21" height="2.21" fill="#AE0F36"/>
<path d="M420.62 263.02L423.22 263.02L421.92 265.36Z" fill="#AE0F36"/>
<path d="M462.00 262.86L465.00 262.86L463.50 265.56Z" fill="#AE0F36"/>
<text x="8.75" y="318.65" font-size="11.4" text-anchor="start" font-weight="bold" fill="#111" stroke="#111" stroke-width="0.45">E</text>
<line x1="52.50" y1="325.75" x2="52.50" y2="415.50" stroke="#1e1e1e" stroke-width="1.15"/>
<line x1="49.50" y1="415.00" x2="52.50" y2="415.00" stroke="#1e1e1e" stroke-width="1.0"/>
<text x="46.90" y="418.20" font-size="8.2" text-anchor="end" font-weight="normal" fill="#1a1a1a" stroke="#1a1a1a" stroke-width="0.18">0</text>
<line x1="49.50" y1="398.00" x2="52.50" y2="398.00" stroke="#1e1e1e" stroke-width="1.0"/>
<text x="46.90" y="401.20" font-size="8.2" text-anchor="end" font-weight="normal" fill="#1a1a1a" stroke="#1a1a1a" stroke-width="0.18">20</text>
<line x1="49.50" y1="381.50" x2="52.50" y2="381.50" stroke="#1e1e1e" stroke-width="1.0"/>
<text x="46.90" y="384.70" font-size="8.2" text-anchor="end" font-weight="normal" fill="#1a1a1a" stroke="#1a1a1a" stroke-width="0.18">40</text>
<line x1="49.50" y1="364.60" x2="52.50" y2="364.60" stroke="#1e1e1e" stroke-width="1.0"/>
<text x="46.90" y="367.80" font-size="8.2" text-anchor="end" font-weight="normal" fill="#1a1a1a" stroke="#1a1a1a" stroke-width="0.18">60</text>
<line x1="49.50" y1="348.00" x2="52.50" y2="348.00" stroke="#1e1e1e" stroke-width="1.0"/>
<text x="46.90" y="351.20" font-size="8.2" text-anchor="end" font-weight="normal" fill="#1a1a1a" stroke="#1a1a1a" stroke-width="0.18">80</text>
<line x1="49.50" y1="328.60" x2="52.50" y2="328.60" stroke="#1e1e1e" stroke-width="1.0"/>
<text x="46.90" y="331.80" font-size="8.2" text-anchor="end" font-weight="normal" fill="#1a1a1a" stroke="#1a1a1a" stroke-width="0.18">100</text>
<line x1="51.00" y1="415.00" x2="176.00" y2="415.00" stroke="#1e1e1e" stroke-width="1.15"/>
<line x1="52.50" y1="415.00" x2="52.50" y2="418.00" stroke="#1e1e1e" stroke-width="1.0"/>
<line x1="64.63" y1="415.00" x2="64.63" y2="417.20" stroke="#1e1e1e" stroke-width="0.95"/>
<line x1="71.73" y1="415.00" x2="71.73" y2="417.20" stroke="#1e1e1e" stroke-width="0.95"/>
<line x1="76.76" y1="415.00" x2="76.76" y2="417.20" stroke="#1e1e1e" stroke-width="0.95"/>
<line x1="80.67" y1="415.00" x2="80.67" y2="417.20" stroke="#1e1e1e" stroke-width="0.95"/>
<line x1="83.86" y1="415.00" x2="83.86" y2="417.20" stroke="#1e1e1e" stroke-width="0.95"/>
<line x1="86.56" y1="415.00" x2="86.56" y2="417.20" stroke="#1e1e1e" stroke-width="0.95"/>
<line x1="88.89" y1="415.00" x2="88.89" y2="417.20" stroke="#1e1e1e" stroke-width="0.95"/>
<line x1="90.96" y1="415.00" x2="90.96" y2="417.20" stroke="#1e1e1e" stroke-width="0.95"/>
<line x1="92.80" y1="415.00" x2="92.80" y2="418.00" stroke="#1e1e1e" stroke-width="1.0"/>
<line x1="104.93" y1="415.00" x2="104.93" y2="417.20" stroke="#1e1e1e" stroke-width="0.95"/>
<line x1="112.03" y1="415.00" x2="112.03" y2="417.20" stroke="#1e1e1e" stroke-width="0.95"/>
<line x1="117.06" y1="415.00" x2="117.06" y2="417.20" stroke="#1e1e1e" stroke-width="0.95"/>
<line x1="120.97" y1="415.00" x2="120.97" y2="417.20" stroke="#1e1e1e" stroke-width="0.95"/>
<line x1="124.16" y1="415.00" x2="124.16" y2="417.20" stroke="#1e1e1e" stroke-width="0.95"/>
<line x1="126.86" y1="415.00" x2="126.86" y2="417.20" stroke="#1e1e1e" stroke-width="0.95"/>
<line x1="129.19" y1="415.00" x2="129.19" y2="417.20" stroke="#1e1e1e" stroke-width="0.95"/>
<line x1="131.26" y1="415.00" x2="131.26" y2="417.20" stroke="#1e1e1e" stroke-width="0.95"/>
<line x1="133.10" y1="415.00" x2="133.10" y2="418.00" stroke="#1e1e1e" stroke-width="1.0"/>
<line x1="145.23" y1="415.00" x2="145.23" y2="417.20" stroke="#1e1e1e" stroke-width="0.95"/>
<line x1="152.33" y1="415.00" x2="152.33" y2="417.20" stroke="#1e1e1e" stroke-width="0.95"/>
<line x1="157.36" y1="415.00" x2="157.36" y2="417.20" stroke="#1e1e1e" stroke-width="0.95"/>
<line x1="161.27" y1="415.00" x2="161.27" y2="417.20" stroke="#1e1e1e" stroke-width="0.95"/>
<line x1="164.46" y1="415.00" x2="164.46" y2="417.20" stroke="#1e1e1e" stroke-width="0.95"/>
<line x1="167.16" y1="415.00" x2="167.16" y2="417.20" stroke="#1e1e1e" stroke-width="0.95"/>
<line x1="169.49" y1="415.00" x2="169.49" y2="417.20" stroke="#1e1e1e" stroke-width="0.95"/>
<line x1="171.56" y1="415.00" x2="171.56" y2="417.20" stroke="#1e1e1e" stroke-width="0.95"/>
<line x1="173.40" y1="415.00" x2="173.40" y2="418.00" stroke="#1e1e1e" stroke-width="1.0"/>
<text x="52.90" y="428.00" font-size="8.2" text-anchor="middle" font-weight="normal" fill="#1a1a1a" stroke="#1a1a1a" stroke-width="0.18">1</text>
<text x="93.20" y="428.00" font-size="8.2" text-anchor="middle" font-weight="normal" fill="#1a1a1a" stroke="#1a1a1a" stroke-width="0.18">10</text>
<text x="133.50" y="428.00" font-size="8.2" text-anchor="middle" font-weight="normal" fill="#1a1a1a" stroke="#1a1a1a" stroke-width="0.18">100</text>
<text x="173.80" y="428.00" font-size="8.2" text-anchor="middle" font-weight="normal" fill="#1a1a1a" stroke="#1a1a1a" stroke-width="0.18">1000</text>
<text x="89.83" y="441.20" font-size="11" font-weight="normal" fill="#1a1a1a" stroke="#1a1a1a" stroke-width="0.42" textLength="48.34" lengthAdjust="spacingAndGlyphs">DCR-2PBD (pM)</text>
<text x="27.40" y="395.89" font-size="9.8" font-weight="normal" fill="#1a1a1a" stroke="#1a1a1a" stroke-width="0.42" textLength="51.40" lengthAdjust="spacingAndGlyphs" transform="rotate(-90 27.40 395.89)">CFU % of control</text>
<path d="M60.73 356.34 L61.33 356.52 L61.93 356.70 L62.53 356.90 L63.13 357.11 L63.73 357.33 L64.33 357.55 L64.93 357.79 L65.54 358.04 L66.14 358.30 L66.74 358.57 L67.34 358.86 L67.94 359.16 L68.54 359.47 L69.14 359.80 L69.74 360.14 L70.34 360.49 L70.95 360.86 L71.55 361.25 L72.15 361.65 L72.75 362.07 L73.35 362.50 L73.95 362.95 L74.55 363.42 L75.15 363.90 L75.75 364.40 L76.36 364.93 L76.96 365.48 L77.56 366.04 L78.16 366.63 L78.76 367.23 L79.36 367.85 L79.96 368.49 L80.56 369.14 L81.17 369.81 L81.77 370.50 L82.37 371.21 L82.97 371.93 L83.57 372.67 L84.17 373.42 L84.77 374.19 L85.37 374.97 L85.97 375.76 L86.58 376.57 L87.18 377.38 L87.78 378.21 L88.38 379.04 L88.98 379.88 L89.58 380.73 L90.18 381.58 L90.78 382.42 L91.38 383.25 L91.99 384.09 L92.59 384.93 L93.19 385.77 L93.79 386.60 L94.39 387.43 L94.99 388.26 L95.59 389.08 L96.19 389.89 L96.79 390.69 L97.40 391.48 L98.00 392.27 L98.60 393.04 L99.20 393.80 L99.80 394.54 L100.40 395.27 L101.00 395.99 L101.60 396.69 L102.21 397.37 L102.81 398.04 L103.41 398.72 L104.01 399.37 L104.61 400.01 L105.21 400.63 L105.81 401.23 L106.41 401.81 L107.01 402.37 L107.62 402.92 L108.22 403.44 L108.82 403.95 L109.42 404.45 L110.02 404.92 L110.62 405.38 L111.22 405.82 L111.82 406.24 L112.42 406.64 L113.03 407.03 L113.63 407.41 L114.23 407.77 L114.83 408.11 L115.43 408.44 L116.03 408.76 L116.63 409.06 L117.23 409.35 L117.84 409.63 L118.44 409.89 L119.04 410.14 L119.64 410.38 L120.24 410.61 L120.84 410.83 L121.44 411.04 L122.04 411.24 L122.64 411.43 L123.25 411.61 L123.85 411.78 L124.45 411.95 L125.05 412.10 L125.65 412.25 L126.25 412.39 L126.85 412.52 L127.45 412.65 L128.05 412.77 L128.66 412.89 L129.26 413.00 L129.86 413.10 L130.46 413.20 L131.06 413.29 L131.66 413.38 L132.26 413.47 L132.86 413.55 L133.47 413.62 L134.07 413.70 L134.67 413.76 L135.27 413.83 L135.87 413.89 L136.47 413.95 L137.07 414.00 L137.67 414.06 L138.27 414.11 L138.88 414.15 L139.48 414.20 L140.08 414.24 L140.68 414.28 L141.28 414.32 L141.88 414.35 L142.48 414.39 L143.08 414.42 L143.68 414.45 L144.29 414.48 L144.89 414.51" stroke="#AE0F36" stroke-width="1.55" fill="none"/>
<line x1="60.73" y1="353.39" x2="60.73" y2="359.21" stroke="#AE0F36" stroke-width="0.9"/>
<line x1="58.93" y1="353.39" x2="62.53" y2="353.39" stroke="#AE0F36" stroke-width="0.9"/>
<line x1="58.93" y1="359.21" x2="62.53" y2="359.21" stroke="#AE0F36" stroke-width="0.9"/>
<rect x="59.45" y="355.03" width="2.55" height="2.55" fill="#AE0F36"/>
<line x1="88.45" y1="374.15" x2="88.45" y2="384.55" stroke="#AE0F36" stroke-width="0.9"/>
<line x1="86.65" y1="374.15" x2="90.25" y2="374.15" stroke="#AE0F36" stroke-width="0.9"/>
<line x1="86.65" y1="384.55" x2="90.25" y2="384.55" stroke="#AE0F36" stroke-width="0.9"/>
<rect x="87.18" y="378.11" width="2.55" height="2.55" fill="#AE0F36"/>
<line x1="116.71" y1="406.50" x2="116.71" y2="411.60" stroke="#AE0F36" stroke-width="0.9"/>
<line x1="114.91" y1="406.50" x2="118.51" y2="406.50" stroke="#AE0F36" stroke-width="0.9"/>
<line x1="114.91" y1="411.60" x2="118.51" y2="411.60" stroke="#AE0F36" stroke-width="0.9"/>
<rect x="115.43" y="407.78" width="2.55" height="2.55" fill="#AE0F36"/>
<path d="M143.39 413.80L146.39 413.80L144.89 416.50Z" fill="#AE0F36"/>
<rect x="85.85" y="366.85" width="1.9" height="1.9" fill="#252525"/>
<rect x="88.75" y="366.85" width="1.9" height="1.9" fill="#252525"/>
<rect x="111.45" y="400.95" width="1.9" height="1.9" fill="#252525"/>
<rect x="114.35" y="400.95" width="1.9" height="1.9" fill="#252525"/>
<rect x="117.25" y="400.95" width="1.9" height="1.9" fill="#252525"/>
<rect x="120.15" y="400.95" width="1.9" height="1.9" fill="#252525"/>
<rect x="139.40" y="407.85" width="1.9" height="1.9" fill="#252525"/>
<rect x="142.30" y="407.85" width="1.9" height="1.9" fill="#252525"/>
<rect x="145.20" y="407.85" width="1.9" height="1.9" fill="#252525"/>
<rect x="148.10" y="407.85" width="1.9" height="1.9" fill="#252525"/>
<text x="273.75" y="318.65" font-size="11.4" text-anchor="start" font-weight="bold" fill="#111" stroke="#111" stroke-width="0.45">F</text>
<line x1="318.00" y1="328.75" x2="318.00" y2="415.50" stroke="#1e1e1e" stroke-width="1.15"/>
<line x1="315.00" y1="415.00" x2="318.00" y2="415.00" stroke="#1e1e1e" stroke-width="1.0"/>
<text x="312.65" y="417.90" font-size="8.2" text-anchor="end" font-weight="normal" fill="#1a1a1a" stroke="#1a1a1a" stroke-width="0.18">0</text>
<line x1="315.00" y1="404.47" x2="318.00" y2="404.47" stroke="#1e1e1e" stroke-width="1.0"/>
<text x="312.65" y="407.37" font-size="8.2" text-anchor="end" font-weight="normal" fill="#1a1a1a" stroke="#1a1a1a" stroke-width="0.18">5</text>
<line x1="315.00" y1="393.94" x2="318.00" y2="393.94" stroke="#1e1e1e" stroke-width="1.0"/>
<text x="312.65" y="396.84" font-size="8.2" text-anchor="end" font-weight="normal" fill="#1a1a1a" stroke="#1a1a1a" stroke-width="0.18">10</text>
<line x1="315.00" y1="383.41" x2="318.00" y2="383.41" stroke="#1e1e1e" stroke-width="1.0"/>
<text x="312.65" y="386.31" font-size="8.2" text-anchor="end" font-weight="normal" fill="#1a1a1a" stroke="#1a1a1a" stroke-width="0.18">15</text>
<line x1="315.00" y1="372.88" x2="318.00" y2="372.88" stroke="#1e1e1e" stroke-width="1.0"/>
<text x="312.65" y="375.78" font-size="8.2" text-anchor="end" font-weight="normal" fill="#1a1a1a" stroke="#1a1a1a" stroke-width="0.18">20</text>
<line x1="315.00" y1="362.35" x2="318.00" y2="362.35" stroke="#1e1e1e" stroke-width="1.0"/>
<text x="312.65" y="365.25" font-size="8.2" text-anchor="end" font-weight="normal" fill="#1a1a1a" stroke="#1a1a1a" stroke-width="0.18">25</text>
<line x1="315.00" y1="351.82" x2="318.00" y2="351.82" stroke="#1e1e1e" stroke-width="1.0"/>
<text x="312.65" y="354.72" font-size="8.2" text-anchor="end" font-weight="normal" fill="#1a1a1a" stroke="#1a1a1a" stroke-width="0.18">30</text>
<line x1="315.00" y1="341.29" x2="318.00" y2="341.29" stroke="#1e1e1e" stroke-width="1.0"/>
<text x="312.65" y="344.19" font-size="8.2" text-anchor="end" font-weight="normal" fill="#1a1a1a" stroke="#1a1a1a" stroke-width="0.18">35</text>
<line x1="315.00" y1="330.76" x2="318.00" y2="330.76" stroke="#1e1e1e" stroke-width="1.0"/>
<text x="312.65" y="333.66" font-size="8.2" text-anchor="end" font-weight="normal" fill="#1a1a1a" stroke="#1a1a1a" stroke-width="0.18">40</text>
<line x1="317.50" y1="415.00" x2="451.30" y2="415.00" stroke="#1e1e1e" stroke-width="1.15"/>
<text x="335.00" y="428.00" font-size="8.2" text-anchor="middle" font-weight="normal" fill="#1a1a1a" stroke="#1a1a1a" stroke-width="0.18">0.0</text>
<line x1="335.00" y1="415.00" x2="335.00" y2="417.40" stroke="#1e1e1e" stroke-width="0.9"/>
<text x="360.00" y="428.00" font-size="8.2" text-anchor="middle" font-weight="normal" fill="#1a1a1a" stroke="#1a1a1a" stroke-width="0.18">1.6</text>
<line x1="360.00" y1="415.00" x2="360.00" y2="417.40" stroke="#1e1e1e" stroke-width="0.9"/>
<text x="385.00" y="428.00" font-size="8.2" text-anchor="middle" font-weight="normal" fill="#1a1a1a" stroke="#1a1a1a" stroke-width="0.18">7.8</text>
<line x1="385.00" y1="415.00" x2="385.00" y2="417.40" stroke="#1e1e1e" stroke-width="0.9"/>
<text x="410.00" y="428.00" font-size="8.2" text-anchor="middle" font-weight="normal" fill="#1a1a1a" stroke="#1a1a1a" stroke-width="0.18">39.2</text>
<line x1="410.00" y1="415.00" x2="410.00" y2="417.40" stroke="#1e1e1e" stroke-width="0.9"/>
<text x="435.00" y="428.00" font-size="8.2" text-anchor="middle" font-weight="normal" fill="#1a1a1a" stroke="#1a1a1a" stroke-width="0.18">196.1</text>
<line x1="435.00" y1="415.00" x2="435.00" y2="417.40" stroke="#1e1e1e" stroke-width="0.9"/>
<rect x="326.90" y="343.40" width="16.20" height="71.60" fill="#67B44B"/>
<rect x="326.90" y="351.82" width="16.20" height="63.18" fill="#A6062F"/>
<rect x="326.90" y="369.51" width="16.20" height="45.49" fill="#2C4A86"/>
<rect x="351.90" y="363.82" width="16.20" height="51.18" fill="#67B44B"/>
<rect x="351.90" y="368.67" width="16.20" height="46.33" fill="#A6062F"/>
<rect x="351.90" y="382.57" width="16.20" height="32.43" fill="#2C4A86"/>
<rect x="376.90" y="386.15" width="16.20" height="28.85" fill="#67B44B"/>
<rect x="376.90" y="388.68" width="16.20" height="26.32" fill="#A6062F"/>
<rect x="376.90" y="395.84" width="16.20" height="19.16" fill="#2C4A86"/>
<rect x="401.90" y="410.58" width="16.20" height="4.42" fill="#67B44B"/>
<rect x="401.90" y="410.58" width="16.20" height="4.42" fill="#A6062F"/>
<rect x="401.90" y="411.50" width="16.20" height="3.50" fill="#2C4A86"/>
<line x1="335.00" y1="341.08" x2="335.00" y2="343.40" stroke="#111" stroke-width="1.25"/>
<line x1="331.00" y1="341.08" x2="339.00" y2="341.08" stroke="#111" stroke-width="1.25"/>
<line x1="335.00" y1="345.71" x2="335.00" y2="351.82" stroke="#111" stroke-width="1.25"/>
<line x1="331.00" y1="345.71" x2="339.00" y2="345.71" stroke="#111" stroke-width="1.25"/>
<line x1="335.00" y1="356.45" x2="335.00" y2="369.51" stroke="#111" stroke-width="1.25"/>
<line x1="331.00" y1="356.45" x2="339.00" y2="356.45" stroke="#111" stroke-width="1.25"/>
<line x1="360.00" y1="362.35" x2="360.00" y2="368.67" stroke="#111" stroke-width="1.25"/>
<line x1="356.00" y1="362.35" x2="364.00" y2="362.35" stroke="#111" stroke-width="1.25"/>
<line x1="360.00" y1="374.56" x2="360.00" y2="382.57" stroke="#111" stroke-width="1.25"/>
<line x1="356.00" y1="374.56" x2="364.00" y2="374.56" stroke="#111" stroke-width="1.25"/>
<line x1="385.00" y1="384.67" x2="385.00" y2="386.15" stroke="#111" stroke-width="1.25"/>
<line x1="381.00" y1="384.67" x2="389.00" y2="384.67" stroke="#111" stroke-width="1.25"/>
<line x1="385.00" y1="387.62" x2="385.00" y2="388.68" stroke="#111" stroke-width="1.25"/>
<line x1="381.00" y1="387.62" x2="389.00" y2="387.62" stroke="#111" stroke-width="1.25"/>
<line x1="385.00" y1="391.20" x2="385.00" y2="395.84" stroke="#111" stroke-width="1.25"/>
<line x1="381.00" y1="391.20" x2="389.00" y2="391.20" stroke="#111" stroke-width="1.25"/>
<line x1="410.00" y1="409.52" x2="410.00" y2="410.58" stroke="#111" stroke-width="1.25"/>
<line x1="406.00" y1="409.52" x2="414.00" y2="409.52" stroke="#111" stroke-width="1.25"/>
<rect x="384.05" y="379.25" width="1.9" height="1.9" fill="#252525"/>
<rect x="409.05" y="405.05" width="1.9" height="1.9" fill="#252525"/>
<rect x="432.80" y="409.95" width="1.9" height="1.9" fill="#252525"/>
<rect x="435.70" y="409.95" width="1.9" height="1.9" fill="#252525"/>
<text x="360.73" y="441.50" font-size="11" font-weight="normal" fill="#1a1a1a" stroke="#1a1a1a" stroke-width="0.42" textLength="48.34" lengthAdjust="spacingAndGlyphs">DCR-2PBD (pM)</text>
<text x="297.40" y="389.98" font-size="9.8" font-weight="normal" fill="#1a1a1a" stroke="#1a1a1a" stroke-width="0.42" textLength="37.57" lengthAdjust="spacingAndGlyphs" transform="rotate(-90 297.40 389.98)">CFU per well</text>
<rect x="455.00" y="358.60" width="9.40" height="4.50" fill="#67B44B"/>
<text x="467.90" y="363.60" font-size="7.5" text-anchor="start" font-weight="normal" fill="#1a1a1a" stroke="#1a1a1a" stroke-width="0.18" textLength="40.80" lengthAdjust="spacingAndGlyphs">CFU-GEMM</text>
<rect x="455.00" y="369.40" width="9.40" height="4.50" fill="#A6062F"/>
<text x="467.90" y="374.40" font-size="7.5" text-anchor="start" font-weight="normal" fill="#1a1a1a" stroke="#1a1a1a" stroke-width="0.18" textLength="39.57" lengthAdjust="spacingAndGlyphs">BFU/CFU-E</text>
<rect x="455.00" y="380.20" width="9.40" height="4.50" fill="#2C4A86"/>
<text x="467.90" y="385.20" font-size="7.5" text-anchor="start" font-weight="normal" fill="#1a1a1a" stroke="#1a1a1a" stroke-width="0.18" textLength="29.67" lengthAdjust="spacingAndGlyphs">CFU-GM</text>
<text x="7.20" y="469.60" font-size="11.4" text-anchor="start" font-weight="bold" fill="#111" stroke="#111" stroke-width="0.45">G</text>
<line x1="53.00" y1="476.40" x2="53.00" y2="569.70" stroke="#1e1e1e" stroke-width="1.15"/>
<line x1="50.00" y1="569.20" x2="53.00" y2="569.20" stroke="#1e1e1e" stroke-width="1.0"/>
<text x="47.65" y="572.10" font-size="8.2" text-anchor="end" font-weight="normal" fill="#1a1a1a" stroke="#1a1a1a" stroke-width="0.18">0</text>
<line x1="50.00" y1="554.25" x2="53.00" y2="554.25" stroke="#1e1e1e" stroke-width="1.0"/>
<text x="47.65" y="557.15" font-size="8.2" text-anchor="end" font-weight="normal" fill="#1a1a1a" stroke="#1a1a1a" stroke-width="0.18">20</text>
<line x1="50.00" y1="539.30" x2="53.00" y2="539.30" stroke="#1e1e1e" stroke-width="1.0"/>
<text x="47.65" y="542.20" font-size="8.2" text-anchor="end" font-weight="normal" fill="#1a1a1a" stroke="#1a1a1a" stroke-width="0.18">40</text>
<line x1="50.00" y1="524.35" x2="53.00" y2="524.35" stroke="#1e1e1e" stroke-width="1.0"/>
<text x="47.65" y="527.25" font-size="8.2" text-anchor="end" font-weight="normal" fill="#1a1a1a" stroke="#1a1a1a" stroke-width="0.18">60</text>
<line x1="50.00" y1="509.40" x2="53.00" y2="509.40" stroke="#1e1e1e" stroke-width="1.0"/>
<text x="47.65" y="512.30" font-size="8.2" text-anchor="end" font-weight="normal" fill="#1a1a1a" stroke="#1a1a1a" stroke-width="0.18">80</text>
<line x1="50.00" y1="494.45" x2="53.00" y2="494.45" stroke="#1e1e1e" stroke-width="1.0"/>
<text x="47.65" y="497.35" font-size="8.2" text-anchor="end" font-weight="normal" fill="#1a1a1a" stroke="#1a1a1a" stroke-width="0.18">100</text>
<line x1="50.00" y1="479.50" x2="53.00" y2="479.50" stroke="#1e1e1e" stroke-width="1.0"/>
<text x="47.65" y="482.40" font-size="8.2" text-anchor="end" font-weight="normal" fill="#1a1a1a" stroke="#1a1a1a" stroke-width="0.18">120</text>
<line x1="52.50" y1="569.00" x2="182.10" y2="569.00" stroke="#1e1e1e" stroke-width="1.15"/>
<text x="64.40" y="582.60" font-size="8.2" text-anchor="middle" font-weight="normal" fill="#1a1a1a" stroke="#1a1a1a" stroke-width="0.18">0.0</text>
<line x1="64.40" y1="569.00" x2="64.40" y2="571.40" stroke="#1e1e1e" stroke-width="0.9"/>
<text x="90.90" y="582.60" font-size="8.2" text-anchor="middle" font-weight="normal" fill="#1a1a1a" stroke="#1a1a1a" stroke-width="0.18">1.6</text>
<line x1="90.90" y1="569.00" x2="90.90" y2="571.40" stroke="#1e1e1e" stroke-width="0.9"/>
<text x="117.30" y="582.60" font-size="8.2" text-anchor="middle" font-weight="normal" fill="#1a1a1a" stroke="#1a1a1a" stroke-width="0.18">7.8</text>
<line x1="117.30" y1="569.00" x2="117.30" y2="571.40" stroke="#1e1e1e" stroke-width="0.9"/>
<text x="143.60" y="582.60" font-size="8.2" text-anchor="middle" font-weight="normal" fill="#1a1a1a" stroke="#1a1a1a" stroke-width="0.18">39.2</text>
<line x1="143.60" y1="569.00" x2="143.60" y2="571.40" stroke="#1e1e1e" stroke-width="0.9"/>
<text x="169.50" y="582.60" font-size="8.2" text-anchor="middle" font-weight="normal" fill="#1a1a1a" stroke="#1a1a1a" stroke-width="0.18">196.1</text>
<line x1="169.50" y1="569.00" x2="169.50" y2="571.40" stroke="#1e1e1e" stroke-width="0.9"/>
<rect x="55.80" y="494.45" width="6.80" height="74.75" fill="#2C4A86"/>
<line x1="59.20" y1="481.74" x2="59.20" y2="494.45" stroke="#2C4A86" stroke-width="1.0"/>
<line x1="57.20" y1="481.74" x2="61.20" y2="481.74" stroke="#2C4A86" stroke-width="1.0"/>
<rect x="65.90" y="494.45" width="6.80" height="74.75" fill="#A6062F"/>
<line x1="69.30" y1="490.71" x2="69.30" y2="494.45" stroke="#A6062F" stroke-width="1.0"/>
<line x1="67.30" y1="490.71" x2="71.30" y2="490.71" stroke="#A6062F" stroke-width="1.0"/>
<rect x="82.30" y="522.86" width="6.80" height="46.35" fill="#2C4A86"/>
<line x1="85.70" y1="507.16" x2="85.70" y2="522.86" stroke="#2C4A86" stroke-width="1.0"/>
<line x1="83.70" y1="507.16" x2="87.70" y2="507.16" stroke="#2C4A86" stroke-width="1.0"/>
<rect x="92.40" y="544.53" width="6.80" height="24.67" fill="#A6062F"/>
<line x1="95.80" y1="542.29" x2="95.80" y2="544.53" stroke="#A6062F" stroke-width="1.0"/>
<line x1="93.80" y1="542.29" x2="97.80" y2="542.29" stroke="#A6062F" stroke-width="1.0"/>
<rect x="108.70" y="538.55" width="6.80" height="30.65" fill="#2C4A86"/>
<line x1="112.10" y1="533.32" x2="112.10" y2="538.55" stroke="#2C4A86" stroke-width="1.0"/>
<line x1="110.10" y1="533.32" x2="114.10" y2="533.32" stroke="#2C4A86" stroke-width="1.0"/>
<rect x="118.80" y="563.22" width="6.80" height="5.98" fill="#A6062F"/>
<line x1="122.20" y1="560.98" x2="122.20" y2="563.22" stroke="#A6062F" stroke-width="1.0"/>
<line x1="120.20" y1="560.98" x2="124.20" y2="560.98" stroke="#A6062F" stroke-width="1.0"/>
<rect x="135.00" y="541.54" width="6.80" height="27.66" fill="#2C4A86"/>
<line x1="138.40" y1="533.32" x2="138.40" y2="541.54" stroke="#2C4A86" stroke-width="1.0"/>
<line x1="136.40" y1="533.32" x2="140.40" y2="533.32" stroke="#2C4A86" stroke-width="1.0"/>
<rect x="145.10" y="567.71" width="6.80" height="1.50" fill="#A6062F"/>
<line x1="148.50" y1="565.46" x2="148.50" y2="567.71" stroke="#A6062F" stroke-width="1.0"/>
<line x1="146.50" y1="565.46" x2="150.50" y2="565.46" stroke="#A6062F" stroke-width="1.0"/>
<rect x="160.90" y="561.73" width="6.80" height="7.48" fill="#2C4A86"/>
<line x1="164.30" y1="559.03" x2="164.30" y2="561.73" stroke="#2C4A86" stroke-width="1.0"/>
<line x1="162.30" y1="559.03" x2="166.30" y2="559.03" stroke="#2C4A86" stroke-width="1.0"/>
<rect x="93.40" y="535.25" width="1.9" height="1.9" fill="#252525"/>
<rect x="96.30" y="535.25" width="1.9" height="1.9" fill="#252525"/>
<rect x="118.35" y="555.25" width="1.9" height="1.9" fill="#252525"/>
<rect x="121.25" y="555.25" width="1.9" height="1.9" fill="#252525"/>
<rect x="124.15" y="555.25" width="1.9" height="1.9" fill="#252525"/>
<rect x="144.65" y="559.45" width="1.9" height="1.9" fill="#252525"/>
<rect x="147.55" y="559.45" width="1.9" height="1.9" fill="#252525"/>
<rect x="150.45" y="559.45" width="1.9" height="1.9" fill="#252525"/>
<rect x="164.15" y="553.65" width="1.9" height="1.9" fill="#252525"/>
<text x="93.12" y="595.20" font-size="11" font-weight="normal" fill="#1a1a1a" stroke="#1a1a1a" stroke-width="0.42" textLength="49.06" lengthAdjust="spacingAndGlyphs">DCR-2PBD (pM)</text>
<text x="28.00" y="548.59" font-size="9.8" font-weight="normal" fill="#1a1a1a" stroke="#1a1a1a" stroke-width="0.42" textLength="51.20" lengthAdjust="spacingAndGlyphs" transform="rotate(-90 28.00 548.59)">CFU % of control</text>
<rect x="185.60" y="515.90" width="9.50" height="4.60" fill="#2C4A86"/>
<text x="198.00" y="520.90" font-size="7.5" text-anchor="start" font-weight="normal" fill="#1a1a1a" stroke="#1a1a1a" stroke-width="0.18" textLength="26.60" lengthAdjust="spacingAndGlyphs">CRGH1</text>
<rect x="185.60" y="525.60" width="9.50" height="4.60" fill="#A6062F"/>
<text x="198.00" y="530.60" font-size="7.5" text-anchor="start" font-weight="normal" fill="#1a1a1a" stroke="#1a1a1a" stroke-width="0.18" textLength="26.60" lengthAdjust="spacingAndGlyphs">CRGH9</text>
</svg>
</body></html>
